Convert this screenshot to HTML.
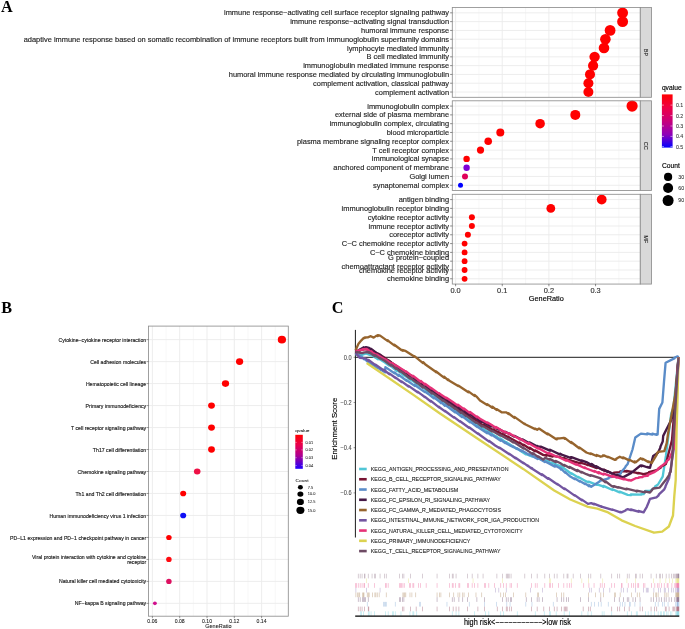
<!DOCTYPE html><html><head><meta charset="utf-8"><style>
html,body{margin:0;padding:0;background:#fff;}
svg{display:block;}
text{font-family:"Liberation Sans", sans-serif;filter:grayscale(1);}
</style></head><body>
<svg width="685" height="629" viewBox="0 0 685 629">
<rect width="685" height="629" fill="#fff"/><g>
<text x="0.9" y="12.2" style='font-family:"Liberation Serif", serif' font-weight="bold" font-size="16.2" fill="#000">A</text>
<text x="1.2" y="313.2" style='font-family:"Liberation Serif", serif' font-weight="bold" font-size="16.2" fill="#000">B</text>
<text x="331.8" y="313.1" style='font-family:"Liberation Serif", serif' font-weight="bold" font-size="16.2" fill="#000">C</text>
<rect x="452.3" y="7.55" width="187.99999999999994" height="89.76" fill="#fff"/>
<line x1="478.93" y1="7.55" x2="478.93" y2="97.31" stroke="#F2F2F2" stroke-width="0.6"/>
<line x1="525.58" y1="7.55" x2="525.58" y2="97.31" stroke="#F2F2F2" stroke-width="0.6"/>
<line x1="572.23" y1="7.55" x2="572.23" y2="97.31" stroke="#F2F2F2" stroke-width="0.6"/>
<line x1="618.88" y1="7.55" x2="618.88" y2="97.31" stroke="#F2F2F2" stroke-width="0.6"/>
<line x1="455.60" y1="7.55" x2="455.60" y2="97.31" stroke="#EBEBEB" stroke-width="0.9"/>
<line x1="502.25" y1="7.55" x2="502.25" y2="97.31" stroke="#EBEBEB" stroke-width="0.9"/>
<line x1="548.90" y1="7.55" x2="548.90" y2="97.31" stroke="#EBEBEB" stroke-width="0.9"/>
<line x1="595.55" y1="7.55" x2="595.55" y2="97.31" stroke="#EBEBEB" stroke-width="0.9"/>
<line x1="452.3" y1="12.83" x2="640.3" y2="12.83" stroke="#EBEBEB" stroke-width="0.9"/>
<line x1="452.3" y1="21.63" x2="640.3" y2="21.63" stroke="#EBEBEB" stroke-width="0.9"/>
<line x1="452.3" y1="30.43" x2="640.3" y2="30.43" stroke="#EBEBEB" stroke-width="0.9"/>
<line x1="452.3" y1="39.23" x2="640.3" y2="39.23" stroke="#EBEBEB" stroke-width="0.9"/>
<line x1="452.3" y1="48.03" x2="640.3" y2="48.03" stroke="#EBEBEB" stroke-width="0.9"/>
<line x1="452.3" y1="56.83" x2="640.3" y2="56.83" stroke="#EBEBEB" stroke-width="0.9"/>
<line x1="452.3" y1="65.63" x2="640.3" y2="65.63" stroke="#EBEBEB" stroke-width="0.9"/>
<line x1="452.3" y1="74.43" x2="640.3" y2="74.43" stroke="#EBEBEB" stroke-width="0.9"/>
<line x1="452.3" y1="83.23" x2="640.3" y2="83.23" stroke="#EBEBEB" stroke-width="0.9"/>
<line x1="452.3" y1="92.03" x2="640.3" y2="92.03" stroke="#EBEBEB" stroke-width="0.9"/>
<circle cx="622.6" cy="12.83" r="5.45" fill="#FF0000"/>
<circle cx="622.6" cy="21.63" r="5.45" fill="#FF0000"/>
<circle cx="610.1" cy="30.43" r="5.4" fill="#FF0000"/>
<circle cx="605.4" cy="39.23" r="5.3" fill="#FF0000"/>
<circle cx="604.0" cy="48.03" r="5.3" fill="#FF0000"/>
<circle cx="594.6" cy="56.83" r="5.2" fill="#FF0000"/>
<circle cx="593.1" cy="65.63" r="5.1" fill="#FF0000"/>
<circle cx="590.0" cy="74.43" r="5.05" fill="#FF0000"/>
<circle cx="588.4" cy="83.23" r="5.0" fill="#FF0000"/>
<circle cx="588.4" cy="92.03" r="5.0" fill="#FF0000"/>
<rect x="452.3" y="7.55" width="187.99999999999994" height="89.76" fill="none" stroke="#8F8F8F" stroke-width="0.85"/>
<rect x="640.3" y="7.55" width="11.2" height="89.76" fill="#D9D9D9" stroke="#8F8F8F" stroke-width="0.85"/>
<text transform="translate(644.4,52.43) rotate(90)" text-anchor="middle" font-size="5.6" fill="#1A1A1A" stroke="#1A1A1A" stroke-width="0.1">BP</text>
<line x1="450.1" y1="12.83" x2="452.3" y2="12.83" stroke="#333" stroke-width="0.55"/>
<text x="449.1" y="15.43" text-anchor="end" font-size="7.45" fill="#262626" stroke="#262626" stroke-width="0.15">immune response−activating cell surface receptor signaling pathway</text>
<line x1="450.1" y1="21.63" x2="452.3" y2="21.63" stroke="#333" stroke-width="0.55"/>
<text x="449.1" y="24.23" text-anchor="end" font-size="7.45" fill="#262626" stroke="#262626" stroke-width="0.15">immune response−activating signal transduction</text>
<line x1="450.1" y1="30.43" x2="452.3" y2="30.43" stroke="#333" stroke-width="0.55"/>
<text x="449.1" y="33.03" text-anchor="end" font-size="7.45" fill="#262626" stroke="#262626" stroke-width="0.15">humoral immune response</text>
<line x1="450.1" y1="39.23" x2="452.3" y2="39.23" stroke="#333" stroke-width="0.55"/>
<text x="449.1" y="41.83" text-anchor="end" font-size="7.45" fill="#262626" stroke="#262626" stroke-width="0.15">adaptive immune response based on somatic recombination of immune receptors built from immunoglobulin superfamily domains</text>
<line x1="450.1" y1="48.03" x2="452.3" y2="48.03" stroke="#333" stroke-width="0.55"/>
<text x="449.1" y="50.63" text-anchor="end" font-size="7.45" fill="#262626" stroke="#262626" stroke-width="0.15">lymphocyte mediated immunity</text>
<line x1="450.1" y1="56.83" x2="452.3" y2="56.83" stroke="#333" stroke-width="0.55"/>
<text x="449.1" y="59.43" text-anchor="end" font-size="7.45" fill="#262626" stroke="#262626" stroke-width="0.15">B cell mediated immunity</text>
<line x1="450.1" y1="65.63" x2="452.3" y2="65.63" stroke="#333" stroke-width="0.55"/>
<text x="449.1" y="68.23" text-anchor="end" font-size="7.45" fill="#262626" stroke="#262626" stroke-width="0.15">immunoglobulin mediated immune response</text>
<line x1="450.1" y1="74.43" x2="452.3" y2="74.43" stroke="#333" stroke-width="0.55"/>
<text x="449.1" y="77.03" text-anchor="end" font-size="7.45" fill="#262626" stroke="#262626" stroke-width="0.15">humoral immune response mediated by circulating immunoglobulin</text>
<line x1="450.1" y1="83.23" x2="452.3" y2="83.23" stroke="#333" stroke-width="0.55"/>
<text x="449.1" y="85.83" text-anchor="end" font-size="7.45" fill="#262626" stroke="#262626" stroke-width="0.15">complement activation, classical pathway</text>
<line x1="450.1" y1="92.03" x2="452.3" y2="92.03" stroke="#333" stroke-width="0.55"/>
<text x="449.1" y="94.63" text-anchor="end" font-size="7.45" fill="#262626" stroke="#262626" stroke-width="0.15">complement activation</text>
<rect x="452.3" y="100.8" width="187.99999999999994" height="89.76" fill="#fff"/>
<line x1="478.93" y1="100.8" x2="478.93" y2="190.56" stroke="#F2F2F2" stroke-width="0.6"/>
<line x1="525.58" y1="100.8" x2="525.58" y2="190.56" stroke="#F2F2F2" stroke-width="0.6"/>
<line x1="572.23" y1="100.8" x2="572.23" y2="190.56" stroke="#F2F2F2" stroke-width="0.6"/>
<line x1="618.88" y1="100.8" x2="618.88" y2="190.56" stroke="#F2F2F2" stroke-width="0.6"/>
<line x1="455.60" y1="100.8" x2="455.60" y2="190.56" stroke="#EBEBEB" stroke-width="0.9"/>
<line x1="502.25" y1="100.8" x2="502.25" y2="190.56" stroke="#EBEBEB" stroke-width="0.9"/>
<line x1="548.90" y1="100.8" x2="548.90" y2="190.56" stroke="#EBEBEB" stroke-width="0.9"/>
<line x1="595.55" y1="100.8" x2="595.55" y2="190.56" stroke="#EBEBEB" stroke-width="0.9"/>
<line x1="452.3" y1="106.08" x2="640.3" y2="106.08" stroke="#EBEBEB" stroke-width="0.9"/>
<line x1="452.3" y1="114.88" x2="640.3" y2="114.88" stroke="#EBEBEB" stroke-width="0.9"/>
<line x1="452.3" y1="123.68" x2="640.3" y2="123.68" stroke="#EBEBEB" stroke-width="0.9"/>
<line x1="452.3" y1="132.48" x2="640.3" y2="132.48" stroke="#EBEBEB" stroke-width="0.9"/>
<line x1="452.3" y1="141.28" x2="640.3" y2="141.28" stroke="#EBEBEB" stroke-width="0.9"/>
<line x1="452.3" y1="150.08" x2="640.3" y2="150.08" stroke="#EBEBEB" stroke-width="0.9"/>
<line x1="452.3" y1="158.88" x2="640.3" y2="158.88" stroke="#EBEBEB" stroke-width="0.9"/>
<line x1="452.3" y1="167.68" x2="640.3" y2="167.68" stroke="#EBEBEB" stroke-width="0.9"/>
<line x1="452.3" y1="176.48" x2="640.3" y2="176.48" stroke="#EBEBEB" stroke-width="0.9"/>
<line x1="452.3" y1="185.28" x2="640.3" y2="185.28" stroke="#EBEBEB" stroke-width="0.9"/>
<circle cx="632.1" cy="106.08" r="5.6" fill="#FF0000"/>
<circle cx="575.3" cy="114.88" r="5.0" fill="#FF0000"/>
<circle cx="540.1" cy="123.68" r="4.8" fill="#FF0000"/>
<circle cx="500.3" cy="132.48" r="4.0" fill="#FF0000"/>
<circle cx="488.2" cy="141.28" r="3.8" fill="#FF0000"/>
<circle cx="480.5" cy="150.08" r="3.6" fill="#FF0000"/>
<circle cx="466.6" cy="158.88" r="3.2" fill="#FF0000"/>
<circle cx="466.6" cy="167.68" r="3.2" fill="#7F00D6"/>
<circle cx="465.0" cy="176.48" r="3.0" fill="#E0005A"/>
<circle cx="460.5" cy="185.28" r="2.5" fill="#0000FF"/>
<rect x="452.3" y="100.8" width="187.99999999999994" height="89.76" fill="none" stroke="#8F8F8F" stroke-width="0.85"/>
<rect x="640.3" y="100.8" width="11.2" height="89.76" fill="#D9D9D9" stroke="#8F8F8F" stroke-width="0.85"/>
<text transform="translate(644.4,145.68) rotate(90)" text-anchor="middle" font-size="5.6" fill="#1A1A1A" stroke="#1A1A1A" stroke-width="0.1">CC</text>
<line x1="450.1" y1="106.08" x2="452.3" y2="106.08" stroke="#333" stroke-width="0.55"/>
<text x="449.1" y="108.68" text-anchor="end" font-size="7.45" fill="#262626" stroke="#262626" stroke-width="0.15">immunoglobulin complex</text>
<line x1="450.1" y1="114.88" x2="452.3" y2="114.88" stroke="#333" stroke-width="0.55"/>
<text x="449.1" y="117.48" text-anchor="end" font-size="7.45" fill="#262626" stroke="#262626" stroke-width="0.15">external side of plasma membrane</text>
<line x1="450.1" y1="123.68" x2="452.3" y2="123.68" stroke="#333" stroke-width="0.55"/>
<text x="449.1" y="126.28" text-anchor="end" font-size="7.45" fill="#262626" stroke="#262626" stroke-width="0.15">immunoglobulin complex, circulating</text>
<line x1="450.1" y1="132.48" x2="452.3" y2="132.48" stroke="#333" stroke-width="0.55"/>
<text x="449.1" y="135.08" text-anchor="end" font-size="7.45" fill="#262626" stroke="#262626" stroke-width="0.15">blood microparticle</text>
<line x1="450.1" y1="141.28" x2="452.3" y2="141.28" stroke="#333" stroke-width="0.55"/>
<text x="449.1" y="143.88" text-anchor="end" font-size="7.45" fill="#262626" stroke="#262626" stroke-width="0.15">plasma membrane signaling receptor complex</text>
<line x1="450.1" y1="150.08" x2="452.3" y2="150.08" stroke="#333" stroke-width="0.55"/>
<text x="449.1" y="152.68" text-anchor="end" font-size="7.45" fill="#262626" stroke="#262626" stroke-width="0.15">T cell receptor complex</text>
<line x1="450.1" y1="158.88" x2="452.3" y2="158.88" stroke="#333" stroke-width="0.55"/>
<text x="449.1" y="161.48" text-anchor="end" font-size="7.45" fill="#262626" stroke="#262626" stroke-width="0.15">immunological synapse</text>
<line x1="450.1" y1="167.68" x2="452.3" y2="167.68" stroke="#333" stroke-width="0.55"/>
<text x="449.1" y="170.28" text-anchor="end" font-size="7.45" fill="#262626" stroke="#262626" stroke-width="0.15">anchored component of membrane</text>
<line x1="450.1" y1="176.48" x2="452.3" y2="176.48" stroke="#333" stroke-width="0.55"/>
<text x="449.1" y="179.08" text-anchor="end" font-size="7.45" fill="#262626" stroke="#262626" stroke-width="0.15">Golgi lumen</text>
<line x1="450.1" y1="185.28" x2="452.3" y2="185.28" stroke="#333" stroke-width="0.55"/>
<text x="449.1" y="187.88" text-anchor="end" font-size="7.45" fill="#262626" stroke="#262626" stroke-width="0.15">synaptonemal complex</text>
<rect x="452.3" y="194.3" width="187.99999999999994" height="89.75999999999999" fill="#fff"/>
<line x1="478.93" y1="194.3" x2="478.93" y2="284.06" stroke="#F2F2F2" stroke-width="0.6"/>
<line x1="525.58" y1="194.3" x2="525.58" y2="284.06" stroke="#F2F2F2" stroke-width="0.6"/>
<line x1="572.23" y1="194.3" x2="572.23" y2="284.06" stroke="#F2F2F2" stroke-width="0.6"/>
<line x1="618.88" y1="194.3" x2="618.88" y2="284.06" stroke="#F2F2F2" stroke-width="0.6"/>
<line x1="455.60" y1="194.3" x2="455.60" y2="284.06" stroke="#EBEBEB" stroke-width="0.9"/>
<line x1="502.25" y1="194.3" x2="502.25" y2="284.06" stroke="#EBEBEB" stroke-width="0.9"/>
<line x1="548.90" y1="194.3" x2="548.90" y2="284.06" stroke="#EBEBEB" stroke-width="0.9"/>
<line x1="595.55" y1="194.3" x2="595.55" y2="284.06" stroke="#EBEBEB" stroke-width="0.9"/>
<line x1="452.3" y1="199.58" x2="640.3" y2="199.58" stroke="#EBEBEB" stroke-width="0.9"/>
<line x1="452.3" y1="208.38" x2="640.3" y2="208.38" stroke="#EBEBEB" stroke-width="0.9"/>
<line x1="452.3" y1="217.18" x2="640.3" y2="217.18" stroke="#EBEBEB" stroke-width="0.9"/>
<line x1="452.3" y1="225.98" x2="640.3" y2="225.98" stroke="#EBEBEB" stroke-width="0.9"/>
<line x1="452.3" y1="234.78" x2="640.3" y2="234.78" stroke="#EBEBEB" stroke-width="0.9"/>
<line x1="452.3" y1="243.58" x2="640.3" y2="243.58" stroke="#EBEBEB" stroke-width="0.9"/>
<line x1="452.3" y1="252.38" x2="640.3" y2="252.38" stroke="#EBEBEB" stroke-width="0.9"/>
<line x1="452.3" y1="261.18" x2="640.3" y2="261.18" stroke="#EBEBEB" stroke-width="0.9"/>
<line x1="452.3" y1="269.98" x2="640.3" y2="269.98" stroke="#EBEBEB" stroke-width="0.9"/>
<line x1="452.3" y1="278.78" x2="640.3" y2="278.78" stroke="#EBEBEB" stroke-width="0.9"/>
<circle cx="601.7" cy="199.58" r="4.9" fill="#FF0000"/>
<circle cx="550.8" cy="208.38" r="4.4" fill="#FF0000"/>
<circle cx="471.9" cy="217.18" r="3.0" fill="#FF0000"/>
<circle cx="471.9" cy="225.98" r="3.0" fill="#FF0000"/>
<circle cx="467.9" cy="234.78" r="3.0" fill="#FF0000"/>
<circle cx="464.6" cy="243.58" r="2.9" fill="#FF0000"/>
<circle cx="464.6" cy="252.38" r="2.9" fill="#FF0000"/>
<circle cx="464.6" cy="261.18" r="2.9" fill="#FF0000"/>
<circle cx="464.6" cy="269.98" r="2.9" fill="#FF0000"/>
<circle cx="464.6" cy="278.78" r="2.9" fill="#FF0000"/>
<rect x="452.3" y="194.3" width="187.99999999999994" height="89.76" fill="none" stroke="#8F8F8F" stroke-width="0.85"/>
<rect x="640.3" y="194.3" width="11.2" height="89.76" fill="#D9D9D9" stroke="#8F8F8F" stroke-width="0.85"/>
<text transform="translate(644.4,239.18) rotate(90)" text-anchor="middle" font-size="5.6" fill="#1A1A1A" stroke="#1A1A1A" stroke-width="0.1">MF</text>
<line x1="450.1" y1="199.58" x2="452.3" y2="199.58" stroke="#333" stroke-width="0.55"/>
<text x="449.1" y="202.18" text-anchor="end" font-size="7.45" fill="#262626" stroke="#262626" stroke-width="0.15">antigen binding</text>
<line x1="450.1" y1="208.38" x2="452.3" y2="208.38" stroke="#333" stroke-width="0.55"/>
<text x="449.1" y="210.98" text-anchor="end" font-size="7.45" fill="#262626" stroke="#262626" stroke-width="0.15">immunoglobulin receptor binding</text>
<line x1="450.1" y1="217.18" x2="452.3" y2="217.18" stroke="#333" stroke-width="0.55"/>
<text x="449.1" y="219.78" text-anchor="end" font-size="7.45" fill="#262626" stroke="#262626" stroke-width="0.15">cytokine receptor activity</text>
<line x1="450.1" y1="225.98" x2="452.3" y2="225.98" stroke="#333" stroke-width="0.55"/>
<text x="449.1" y="228.58" text-anchor="end" font-size="7.45" fill="#262626" stroke="#262626" stroke-width="0.15">immune receptor activity</text>
<line x1="450.1" y1="234.78" x2="452.3" y2="234.78" stroke="#333" stroke-width="0.55"/>
<text x="449.1" y="237.38" text-anchor="end" font-size="7.45" fill="#262626" stroke="#262626" stroke-width="0.15">coreceptor activity</text>
<line x1="450.1" y1="243.58" x2="452.3" y2="243.58" stroke="#333" stroke-width="0.55"/>
<text x="449.1" y="246.18" text-anchor="end" font-size="7.45" fill="#262626" stroke="#262626" stroke-width="0.15">C−C chemokine receptor activity</text>
<line x1="450.1" y1="252.38" x2="452.3" y2="252.38" stroke="#333" stroke-width="0.55"/>
<text x="449.1" y="254.98" text-anchor="end" font-size="7.45" fill="#262626" stroke="#262626" stroke-width="0.15">C−C chemokine binding</text>
<line x1="450.1" y1="261.18" x2="452.3" y2="261.18" stroke="#333" stroke-width="0.55"/>
<text x="449.1" y="260.38" text-anchor="end" font-size="7.45" fill="#262626" stroke="#262626" stroke-width="0.15">G protein−coupled</text>
<text x="449.1" y="268.58" text-anchor="end" font-size="7.45" fill="#262626" stroke="#262626" stroke-width="0.15">chemoattractant receptor activity</text>
<line x1="450.1" y1="269.98" x2="452.3" y2="269.98" stroke="#333" stroke-width="0.55"/>
<text x="449.1" y="272.58" text-anchor="end" font-size="7.45" fill="#262626" stroke="#262626" stroke-width="0.15">chemokine receptor activity</text>
<line x1="450.1" y1="278.78" x2="452.3" y2="278.78" stroke="#333" stroke-width="0.55"/>
<text x="449.1" y="281.38" text-anchor="end" font-size="7.45" fill="#262626" stroke="#262626" stroke-width="0.15">chemokine binding</text>
<line x1="455.60" y1="284.06" x2="455.60" y2="286.26" stroke="#333" stroke-width="0.55"/>
<text x="455.60" y="292.6" text-anchor="middle" font-size="7.4" fill="#333" stroke="#333" stroke-width="0.15">0.0</text>
<line x1="502.25" y1="284.06" x2="502.25" y2="286.26" stroke="#333" stroke-width="0.55"/>
<text x="502.25" y="292.6" text-anchor="middle" font-size="7.4" fill="#333" stroke="#333" stroke-width="0.15">0.1</text>
<line x1="548.90" y1="284.06" x2="548.90" y2="286.26" stroke="#333" stroke-width="0.55"/>
<text x="548.90" y="292.6" text-anchor="middle" font-size="7.4" fill="#333" stroke="#333" stroke-width="0.15">0.2</text>
<line x1="595.55" y1="284.06" x2="595.55" y2="286.26" stroke="#333" stroke-width="0.55"/>
<text x="595.55" y="292.6" text-anchor="middle" font-size="7.4" fill="#333" stroke="#333" stroke-width="0.15">0.3</text>
<text x="546.3" y="300.9" text-anchor="middle" font-size="7.3" fill="#000" stroke="#000" stroke-width="0.15">GeneRatio</text>
<text x="661.9" y="90.4" font-size="6.7" fill="#000" stroke="#000" stroke-width="0.15">qvalue</text>
<defs><linearGradient id="gq" x1="0" y1="0" x2="0" y2="1"><stop offset="0" stop-color="#FF0000"/><stop offset="0.25" stop-color="#EE0045"/><stop offset="0.5" stop-color="#C8007A"/><stop offset="0.75" stop-color="#9000B8"/><stop offset="1" stop-color="#0000FF"/></linearGradient></defs>
<rect x="661.9" y="94.4" width="10.7" height="53.2" fill="url(#gq)"/>
<line x1="661.9" y1="105.1" x2="664" y2="105.1" stroke="#fff" stroke-width="0.5"/>
<line x1="670.5" y1="105.1" x2="672.6" y2="105.1" stroke="#fff" stroke-width="0.5"/>
<text x="675.9" y="107.0" font-size="5.3" fill="#333" stroke="#333" stroke-width="0.07">0.1</text>
<line x1="661.9" y1="115.6" x2="664" y2="115.6" stroke="#fff" stroke-width="0.5"/>
<line x1="670.5" y1="115.6" x2="672.6" y2="115.6" stroke="#fff" stroke-width="0.5"/>
<text x="675.9" y="117.5" font-size="5.3" fill="#333" stroke="#333" stroke-width="0.07">0.2</text>
<line x1="661.9" y1="126.0" x2="664" y2="126.0" stroke="#fff" stroke-width="0.5"/>
<line x1="670.5" y1="126.0" x2="672.6" y2="126.0" stroke="#fff" stroke-width="0.5"/>
<text x="675.9" y="127.9" font-size="5.3" fill="#333" stroke="#333" stroke-width="0.07">0.3</text>
<line x1="661.9" y1="136.4" x2="664" y2="136.4" stroke="#fff" stroke-width="0.5"/>
<line x1="670.5" y1="136.4" x2="672.6" y2="136.4" stroke="#fff" stroke-width="0.5"/>
<text x="675.9" y="138.3" font-size="5.3" fill="#333" stroke="#333" stroke-width="0.07">0.4</text>
<line x1="661.9" y1="146.6" x2="664" y2="146.6" stroke="#fff" stroke-width="0.5"/>
<line x1="670.5" y1="146.6" x2="672.6" y2="146.6" stroke="#fff" stroke-width="0.5"/>
<text x="675.9" y="148.5" font-size="5.3" fill="#333" stroke="#333" stroke-width="0.07">0.5</text>
<text x="662" y="167.7" font-size="6.7" fill="#000" stroke="#000" stroke-width="0.15">Count</text>
<circle cx="668.1" cy="176.9" r="4.1" fill="#000"/>
<text x="678.2" y="178.8" font-size="5.3" fill="#333" stroke="#333" stroke-width="0.07">30</text>
<circle cx="668.1" cy="188.0" r="5.0" fill="#000"/>
<text x="678.2" y="189.9" font-size="5.3" fill="#333" stroke="#333" stroke-width="0.07">60</text>
<circle cx="668.1" cy="200.5" r="5.5" fill="#000"/>
<text x="678.2" y="202.4" font-size="5.3" fill="#333" stroke="#333" stroke-width="0.07">90</text>
<rect x="148.5" y="326.1" width="139.8" height="290.1" fill="#fff"/>
<line x1="152.40" y1="326.1" x2="152.40" y2="616.2" stroke="#EBEBEB" stroke-width="0.9"/>
<line x1="166.05" y1="326.1" x2="166.05" y2="616.2" stroke="#F2F2F2" stroke-width="0.6"/>
<line x1="179.70" y1="326.1" x2="179.70" y2="616.2" stroke="#EBEBEB" stroke-width="0.9"/>
<line x1="193.35" y1="326.1" x2="193.35" y2="616.2" stroke="#F2F2F2" stroke-width="0.6"/>
<line x1="207.00" y1="326.1" x2="207.00" y2="616.2" stroke="#EBEBEB" stroke-width="0.9"/>
<line x1="220.65" y1="326.1" x2="220.65" y2="616.2" stroke="#F2F2F2" stroke-width="0.6"/>
<line x1="234.30" y1="326.1" x2="234.30" y2="616.2" stroke="#EBEBEB" stroke-width="0.9"/>
<line x1="247.95" y1="326.1" x2="247.95" y2="616.2" stroke="#F2F2F2" stroke-width="0.6"/>
<line x1="261.60" y1="326.1" x2="261.60" y2="616.2" stroke="#EBEBEB" stroke-width="0.9"/>
<line x1="275.25" y1="326.1" x2="275.25" y2="616.2" stroke="#F2F2F2" stroke-width="0.6"/>
<line x1="148.5" y1="339.64" x2="288.3" y2="339.64" stroke="#EBEBEB" stroke-width="0.9"/>
<line x1="148.5" y1="361.61" x2="288.3" y2="361.61" stroke="#EBEBEB" stroke-width="0.9"/>
<line x1="148.5" y1="383.59" x2="288.3" y2="383.59" stroke="#EBEBEB" stroke-width="0.9"/>
<line x1="148.5" y1="405.57" x2="288.3" y2="405.57" stroke="#EBEBEB" stroke-width="0.9"/>
<line x1="148.5" y1="427.55" x2="288.3" y2="427.55" stroke="#EBEBEB" stroke-width="0.9"/>
<line x1="148.5" y1="449.52" x2="288.3" y2="449.52" stroke="#EBEBEB" stroke-width="0.9"/>
<line x1="148.5" y1="471.50" x2="288.3" y2="471.50" stroke="#EBEBEB" stroke-width="0.9"/>
<line x1="148.5" y1="493.48" x2="288.3" y2="493.48" stroke="#EBEBEB" stroke-width="0.9"/>
<line x1="148.5" y1="515.45" x2="288.3" y2="515.45" stroke="#EBEBEB" stroke-width="0.9"/>
<line x1="148.5" y1="537.43" x2="288.3" y2="537.43" stroke="#EBEBEB" stroke-width="0.9"/>
<line x1="148.5" y1="559.41" x2="288.3" y2="559.41" stroke="#EBEBEB" stroke-width="0.9"/>
<line x1="148.5" y1="581.39" x2="288.3" y2="581.39" stroke="#EBEBEB" stroke-width="0.9"/>
<line x1="148.5" y1="603.36" x2="288.3" y2="603.36" stroke="#EBEBEB" stroke-width="0.9"/>
<ellipse cx="281.9" cy="339.64" rx="4.13" ry="3.8" fill="#FF0000"/>
<ellipse cx="239.6" cy="361.61" rx="3.65" ry="3.35" fill="#FF0000"/>
<ellipse cx="225.5" cy="383.59" rx="3.6" ry="3.3" fill="#FF0000"/>
<ellipse cx="211.5" cy="405.57" rx="3.4" ry="3.15" fill="#FF0000"/>
<ellipse cx="211.5" cy="427.55" rx="3.4" ry="3.15" fill="#FF0000"/>
<ellipse cx="211.5" cy="449.52" rx="3.4" ry="3.15" fill="#FF0000"/>
<ellipse cx="197.2" cy="471.50" rx="3.3" ry="3.05" fill="#EE1045"/>
<ellipse cx="183.2" cy="493.48" rx="3.0" ry="2.8" fill="#FF0000"/>
<ellipse cx="183.2" cy="515.45" rx="3.0" ry="2.8" fill="#1010F5"/>
<ellipse cx="168.9" cy="537.43" rx="2.75" ry="2.55" fill="#FF0000"/>
<ellipse cx="168.9" cy="559.41" rx="2.75" ry="2.55" fill="#FF0A10"/>
<ellipse cx="168.9" cy="581.39" rx="2.75" ry="2.55" fill="#DD1060"/>
<ellipse cx="154.9" cy="603.36" rx="1.95" ry="1.8" fill="#D0108C"/>
<rect x="148.5" y="326.1" width="139.8" height="290.1" fill="none" stroke="#8F8F8F" stroke-width="0.85"/>
<line x1="146.5" y1="339.64" x2="148.5" y2="339.64" stroke="#333" stroke-width="0.5"/>
<text transform="translate(146.20,341.74) scale(1.1,1)" text-anchor="end" font-size="4.7" fill="#1A1A1A" stroke="#1A1A1A" stroke-width="0.13">Cytokine−cytokine receptor interaction</text>
<line x1="146.5" y1="361.61" x2="148.5" y2="361.61" stroke="#333" stroke-width="0.5"/>
<text transform="translate(146.20,363.71) scale(1.1,1)" text-anchor="end" font-size="4.7" fill="#1A1A1A" stroke="#1A1A1A" stroke-width="0.13">Cell adhesion molecules</text>
<line x1="146.5" y1="383.59" x2="148.5" y2="383.59" stroke="#333" stroke-width="0.5"/>
<text transform="translate(146.20,385.69) scale(1.1,1)" text-anchor="end" font-size="4.7" fill="#1A1A1A" stroke="#1A1A1A" stroke-width="0.13">Hematopoietic cell lineage</text>
<line x1="146.5" y1="405.57" x2="148.5" y2="405.57" stroke="#333" stroke-width="0.5"/>
<text transform="translate(146.20,407.67) scale(1.1,1)" text-anchor="end" font-size="4.7" fill="#1A1A1A" stroke="#1A1A1A" stroke-width="0.13">Primary immunodeficiency</text>
<line x1="146.5" y1="427.55" x2="148.5" y2="427.55" stroke="#333" stroke-width="0.5"/>
<text transform="translate(146.20,429.65) scale(1.1,1)" text-anchor="end" font-size="4.7" fill="#1A1A1A" stroke="#1A1A1A" stroke-width="0.13">T cell receptor signaling pathway</text>
<line x1="146.5" y1="449.52" x2="148.5" y2="449.52" stroke="#333" stroke-width="0.5"/>
<text transform="translate(146.20,451.62) scale(1.1,1)" text-anchor="end" font-size="4.7" fill="#1A1A1A" stroke="#1A1A1A" stroke-width="0.13">Th17 cell differentiation</text>
<line x1="146.5" y1="471.50" x2="148.5" y2="471.50" stroke="#333" stroke-width="0.5"/>
<text transform="translate(146.20,473.60) scale(1.1,1)" text-anchor="end" font-size="4.7" fill="#1A1A1A" stroke="#1A1A1A" stroke-width="0.13">Chemokine signaling pathway</text>
<line x1="146.5" y1="493.48" x2="148.5" y2="493.48" stroke="#333" stroke-width="0.5"/>
<text transform="translate(146.20,495.58) scale(1.1,1)" text-anchor="end" font-size="4.7" fill="#1A1A1A" stroke="#1A1A1A" stroke-width="0.13">Th1 and Th2 cell differentiation</text>
<line x1="146.5" y1="515.45" x2="148.5" y2="515.45" stroke="#333" stroke-width="0.5"/>
<text transform="translate(146.20,517.55) scale(1.1,1)" text-anchor="end" font-size="4.7" fill="#1A1A1A" stroke="#1A1A1A" stroke-width="0.13">Human immunodeficiency virus 1 infection</text>
<line x1="146.5" y1="537.43" x2="148.5" y2="537.43" stroke="#333" stroke-width="0.5"/>
<text transform="translate(146.20,539.53) scale(1.1,1)" text-anchor="end" font-size="4.7" fill="#1A1A1A" stroke="#1A1A1A" stroke-width="0.13">PD−L1 expression and PD−1 checkpoint pathway in cancer</text>
<line x1="146.5" y1="559.41" x2="148.5" y2="559.41" stroke="#333" stroke-width="0.5"/>
<text transform="translate(146.20,558.91) scale(1.1,1)" text-anchor="end" font-size="4.7" fill="#1A1A1A" stroke="#1A1A1A" stroke-width="0.13">Viral protein interaction with cytokine and cytokine</text>
<text transform="translate(146.20,564.31) scale(1.1,1)" text-anchor="end" font-size="4.7" fill="#1A1A1A" stroke="#1A1A1A" stroke-width="0.13">receptor</text>
<line x1="146.5" y1="581.39" x2="148.5" y2="581.39" stroke="#333" stroke-width="0.5"/>
<text transform="translate(146.20,583.49) scale(1.1,1)" text-anchor="end" font-size="4.7" fill="#1A1A1A" stroke="#1A1A1A" stroke-width="0.13">Natural killer cell mediated cytotoxicity</text>
<line x1="146.5" y1="603.36" x2="148.5" y2="603.36" stroke="#333" stroke-width="0.5"/>
<text transform="translate(146.20,605.46) scale(1.1,1)" text-anchor="end" font-size="4.7" fill="#1A1A1A" stroke="#1A1A1A" stroke-width="0.13">NF−kappa B signaling pathway</text>
<line x1="152.40" y1="616.2" x2="152.40" y2="618.2" stroke="#333" stroke-width="0.5"/>
<text transform="translate(152.40,622.80) scale(1.1,1)" text-anchor="middle" font-size="4.7" fill="#1A1A1A" stroke="#1A1A1A" stroke-width="0.07">0.06</text>
<line x1="179.70" y1="616.2" x2="179.70" y2="618.2" stroke="#333" stroke-width="0.5"/>
<text transform="translate(179.70,622.80) scale(1.1,1)" text-anchor="middle" font-size="4.7" fill="#1A1A1A" stroke="#1A1A1A" stroke-width="0.07">0.08</text>
<line x1="207.00" y1="616.2" x2="207.00" y2="618.2" stroke="#333" stroke-width="0.5"/>
<text transform="translate(207.00,622.80) scale(1.1,1)" text-anchor="middle" font-size="4.7" fill="#1A1A1A" stroke="#1A1A1A" stroke-width="0.07">0.10</text>
<line x1="234.30" y1="616.2" x2="234.30" y2="618.2" stroke="#333" stroke-width="0.5"/>
<text transform="translate(234.30,622.80) scale(1.1,1)" text-anchor="middle" font-size="4.7" fill="#1A1A1A" stroke="#1A1A1A" stroke-width="0.07">0.12</text>
<line x1="261.60" y1="616.2" x2="261.60" y2="618.2" stroke="#333" stroke-width="0.5"/>
<text transform="translate(261.60,622.80) scale(1.1,1)" text-anchor="middle" font-size="4.7" fill="#1A1A1A" stroke="#1A1A1A" stroke-width="0.07">0.14</text>
<text transform="translate(218.40,628.30) scale(1.1,1)" text-anchor="middle" font-size="5.0" fill="#1A1A1A" stroke="#1A1A1A" stroke-width="0.07">GeneRatio</text>
<text transform="translate(295.30,432.40) scale(1.1,1)" text-anchor="start" font-size="4.4" fill="#1A1A1A" stroke="#1A1A1A" stroke-width="0.07">qvalue</text>
<defs><linearGradient id="gq2" x1="0" y1="0" x2="0" y2="1"><stop offset="0" stop-color="#FF0000"/><stop offset="0.3" stop-color="#E8004E"/><stop offset="0.6" stop-color="#B0008E"/><stop offset="1" stop-color="#2000FF"/></linearGradient></defs>
<rect x="295.3" y="434.8" width="7.5" height="34" fill="url(#gq2)"/>
<line x1="295.3" y1="442.4" x2="296.8" y2="442.4" stroke="#fff" stroke-width="0.4"/>
<line x1="301.3" y1="442.4" x2="302.8" y2="442.4" stroke="#fff" stroke-width="0.4"/>
<text transform="translate(305.40,443.70) scale(1.1,1)" text-anchor="start" font-size="3.6" fill="#1A1A1A" stroke="#1A1A1A" stroke-width="0.03">0.01</text>
<line x1="295.3" y1="449.9" x2="296.8" y2="449.9" stroke="#fff" stroke-width="0.4"/>
<line x1="301.3" y1="449.9" x2="302.8" y2="449.9" stroke="#fff" stroke-width="0.4"/>
<text transform="translate(305.40,451.20) scale(1.1,1)" text-anchor="start" font-size="3.6" fill="#1A1A1A" stroke="#1A1A1A" stroke-width="0.03">0.02</text>
<line x1="295.3" y1="457.7" x2="296.8" y2="457.7" stroke="#fff" stroke-width="0.4"/>
<line x1="301.3" y1="457.7" x2="302.8" y2="457.7" stroke="#fff" stroke-width="0.4"/>
<text transform="translate(305.40,459.00) scale(1.1,1)" text-anchor="start" font-size="3.6" fill="#1A1A1A" stroke="#1A1A1A" stroke-width="0.03">0.03</text>
<line x1="295.3" y1="465.5" x2="296.8" y2="465.5" stroke="#fff" stroke-width="0.4"/>
<line x1="301.3" y1="465.5" x2="302.8" y2="465.5" stroke="#fff" stroke-width="0.4"/>
<text transform="translate(305.40,466.80) scale(1.1,1)" text-anchor="start" font-size="3.6" fill="#1A1A1A" stroke="#1A1A1A" stroke-width="0.03">0.04</text>
<text transform="translate(295.60,481.50) scale(1.1,1)" text-anchor="start" font-size="4.4" fill="#1A1A1A" stroke="#1A1A1A" stroke-width="0.07">Count</text>
<ellipse cx="300.4" cy="487.2" rx="2.5" ry="2.25" fill="#000"/>
<text transform="translate(307.70,488.50) scale(1.1,1)" text-anchor="start" font-size="3.6" fill="#1A1A1A" stroke="#1A1A1A" stroke-width="0.03">7.5</text>
<ellipse cx="300.4" cy="494.1" rx="3.0" ry="2.70" fill="#000"/>
<text transform="translate(307.70,495.40) scale(1.1,1)" text-anchor="start" font-size="3.6" fill="#1A1A1A" stroke="#1A1A1A" stroke-width="0.03">10.0</text>
<ellipse cx="300.4" cy="501.9" rx="3.5" ry="3.15" fill="#000"/>
<text transform="translate(307.70,503.20) scale(1.1,1)" text-anchor="start" font-size="3.6" fill="#1A1A1A" stroke="#1A1A1A" stroke-width="0.03">12.5</text>
<ellipse cx="300.4" cy="510.3" rx="4.0" ry="3.60" fill="#000"/>
<text transform="translate(307.70,511.60) scale(1.1,1)" text-anchor="start" font-size="3.6" fill="#1A1A1A" stroke="#1A1A1A" stroke-width="0.03">15.0</text>
<line x1="355.4" y1="329.9" x2="355.4" y2="537.5" stroke="#000" stroke-width="0.9"/>
<line x1="353.59999999999997" y1="357.30" x2="355.4" y2="357.30" stroke="#333" stroke-width="0.5"/>
<text transform="translate(351.6,359.60) scale(0.875,1)" text-anchor="end" font-size="6.4" fill="#4D4D4D" stroke="#4D4D4D" stroke-width="0.1">0.0</text>
<line x1="353.59999999999997" y1="402.50" x2="355.4" y2="402.50" stroke="#333" stroke-width="0.5"/>
<text transform="translate(351.6,404.80) scale(0.875,1)" text-anchor="end" font-size="6.4" fill="#4D4D4D" stroke="#4D4D4D" stroke-width="0.1">−0.2</text>
<line x1="353.59999999999997" y1="447.70" x2="355.4" y2="447.70" stroke="#333" stroke-width="0.5"/>
<text transform="translate(351.6,450.00) scale(0.875,1)" text-anchor="end" font-size="6.4" fill="#4D4D4D" stroke="#4D4D4D" stroke-width="0.1">−0.4</text>
<line x1="353.59999999999997" y1="492.90" x2="355.4" y2="492.90" stroke="#333" stroke-width="0.5"/>
<text transform="translate(351.6,495.20) scale(0.875,1)" text-anchor="end" font-size="6.4" fill="#4D4D4D" stroke="#4D4D4D" stroke-width="0.1">−0.6</text>
<text transform="translate(336.9,428.7) rotate(-90)" text-anchor="middle" font-size="7.8" fill="#000" stroke="#000" stroke-width="0.15">Enrichment Score</text>
<line x1="355.4" y1="357.30" x2="678.6" y2="357.30" stroke="#000" stroke-width="0.9"/>
<polyline points="355.5,354.0 359.8,355.2 359.9,354.2 362.0,355.0 366.0,353.5 371.0,355.4 371.1,355.0 372.0,355.5 378.0,359.2 378.1,358.3 385.0,362.5 389.0,365.6 389.1,364.8 397.0,371.1 397.1,370.0 404.0,375.6 404.1,375.0 411.0,380.3 411.1,379.7 420.0,386.4 420.1,385.7 428.0,391.9 428.1,390.9 435.0,396.6 435.1,395.7 440.0,399.5 443.0,402.0 443.1,401.1 448.0,405.3 448.1,404.7 455.0,410.0 455.1,409.6 465.0,416.9 465.1,416.4 470.0,420.5 470.1,419.7 478.0,426.2 478.1,425.1 480.0,427.0 488.1,432.1 488.2,431.4 496.2,436.8 496.3,436.3 500.3,439.5 500.4,438.4 506.4,442.8 506.4,442.2 516.5,448.8 516.6,448.2 525.7,454.2 525.7,453.6 526.7,454.5 531.9,456.5 531.9,455.9 541.1,459.5 541.2,459.1 546.3,461.5 546.4,460.4 549.4,462.0 551.5,463.0 551.6,462.6 560.0,466.0 561.0,467.2 561.1,466.2 570.3,473.0 571.3,473.8 571.4,473.3 578.3,477.5 578.4,476.9 586.4,481.4 588.5,482.3 588.6,481.7 597.0,484.8 597.0,484.3 602.3,486.1 603.3,487.0 603.4,485.9 612.5,490.0 612.5,489.2 619.6,492.4 619.6,491.7 627.7,494.9 630.9,495.2 630.9,494.3 641.5,494.6 641.5,493.8 643.6,494.1 645.2,490.9 650.0,490.9 655.0,487.4 655.0,486.4 658.0,484.5 662.7,476.6 665.9,455.9 671.2,413.7 673.5,407.3 678.5,357.4" fill="none" stroke="#50C6D6" stroke-width="2.35" stroke-linejoin="round"/>
<polyline points="355.5,352.0 359.8,350.7 359.8,349.9 363.0,349.0 368.0,349.5 368.1,348.5 370.0,349.0 378.0,354.0 378.1,353.6 385.0,358.0 389.0,361.1 389.1,360.6 395.0,365.4 395.1,364.8 403.0,371.1 403.1,370.4 409.0,375.2 409.1,374.8 417.0,381.0 417.1,380.4 425.0,386.6 425.1,386.1 429.0,389.6 429.1,388.8 436.0,394.5 436.1,393.9 440.0,397.0 442.0,398.7 442.1,397.9 447.0,401.9 447.1,401.4 451.0,404.7 451.1,403.9 455.0,407.4 455.1,406.4 464.0,413.3 464.1,412.4 468.0,415.8 468.1,415.2 473.0,419.3 473.1,418.2 480.0,423.4 484.0,425.8 484.1,424.9 493.1,430.1 493.1,429.3 498.1,432.4 498.2,431.8 502.2,434.4 502.2,433.7 508.2,437.3 508.2,436.5 509.2,437.4 519.5,443.2 519.5,442.5 523.6,445.5 523.7,444.6 526.7,446.7 529.8,448.8 529.8,447.7 534.9,451.2 535.0,450.4 543.1,454.9 546.3,455.7 546.3,454.9 552.6,456.5 552.7,455.9 560.0,457.2 564.1,459.0 564.2,458.0 569.3,460.5 569.3,459.8 570.3,460.5 580.4,463.4 580.4,462.6 586.4,464.5 587.4,465.1 587.5,464.6 596.9,468.1 596.9,467.1 600.0,468.5 604.3,470.8 604.3,469.7 611.8,473.4 613.9,473.3 614.0,472.7 620.3,472.1 620.3,471.5 624.5,471.0 626.5,471.6 626.6,471.0 635.7,472.6 638.0,473.3 638.0,472.8 643.6,474.2 648.9,473.0 649.0,472.1 656.4,470.2 660.6,467.8 660.7,467.0 665.9,463.9 672.0,440.0 678.5,357.4" fill="none" stroke="#781432" stroke-width="2.35" stroke-linejoin="round"/>
<polyline points="357.0,354.0 362.0,357.0 364.3,359.3 364.4,358.6 367.8,361.9 370.8,364.0 370.9,363.5 376.9,367.8 377.0,367.1 381.0,370.1 381.0,369.7 385.0,372.4 385.4,367.1 394.5,373.3 394.5,372.3 398.5,375.9 398.6,374.8 406.6,380.7 406.6,380.2 414.7,385.9 414.7,385.0 424.8,392.1 424.8,391.6 429.8,395.0 433.9,398.3 433.9,397.3 440.0,402.0 441.0,403.2 441.1,402.1 445.0,405.8 445.1,404.8 455.0,412.4 455.1,411.5 462.0,417.1 462.1,416.1 470.0,422.3 470.1,421.6 477.0,426.9 477.1,426.3 480.0,428.6 487.2,433.2 487.3,432.2 491.4,435.4 491.4,434.6 500.7,440.7 500.7,439.9 504.8,442.9 504.9,442.3 506.9,443.8 513.1,447.0 513.1,446.5 517.2,449.0 517.2,448.5 521.3,451.1 521.3,450.3 529.5,454.9 529.6,454.3 532.6,456.1 537.7,458.9 537.7,457.8 544.8,461.9 544.8,461.2 554.9,466.6 555.0,465.5 560.0,468.3 561.0,469.6 561.1,468.6 565.1,472.7 565.2,472.2 570.3,476.6 574.5,479.0 574.5,478.3 579.7,481.4 579.8,480.9 584.9,483.9 585.0,483.4 589.1,486.2 589.2,485.2 591.2,486.7 599.6,481.6 599.7,481.0 600.7,480.6 608.7,478.4 608.8,477.4 613.8,476.6 613.8,475.9 619.8,474.2 620.9,473.3 621.0,472.2 625.4,467.2 625.5,466.5 627.7,463.9 632.5,449.5 635.3,437.5 640.9,433.6 647.2,434.3 647.2,433.5 652.4,434.6 652.4,433.7 656.6,434.8 656.6,433.9 657.6,434.4 659.2,408.9 662.4,402.5 664.0,381.8 665.6,362.7 674.3,358.4 674.3,357.8 677.5,356.4 678.5,357.4" fill="none" stroke="#5A8CC8" stroke-width="2.35" stroke-linejoin="round"/>
<polyline points="355.5,352.0 363.8,347.3 365.9,348.0 365.9,347.1 369.0,347.9 371.1,349.9 371.2,348.8 379.8,355.7 379.8,354.6 381.9,356.6 387.9,360.9 388.0,360.4 392.9,364.2 393.0,363.8 396.9,367.0 397.0,366.3 402.9,371.2 403.0,370.1 410.9,376.6 411.0,375.5 416.0,379.8 416.0,379.0 420.0,382.3 420.0,381.8 429.0,388.6 429.0,387.7 436.0,393.1 436.0,392.6 440.0,395.5 443.0,397.7 443.1,397.1 452.0,403.5 452.1,402.8 456.0,405.9 456.1,405.5 460.0,408.8 460.1,407.7 469.0,414.5 469.1,413.4 474.0,417.4 474.1,416.9 480.0,421.0 481.0,421.8 481.1,421.1 491.1,426.4 491.2,425.5 498.2,429.4 498.3,428.8 505.3,432.6 505.4,431.9 510.4,434.5 514.4,436.6 514.4,435.8 522.4,440.1 522.4,439.4 529.4,443.2 529.4,442.4 537.4,446.5 537.4,446.0 538.4,446.7 540.7,446.7 550.0,450.7 550.0,449.7 560.2,454.6 560.3,453.7 562.3,454.9 571.3,458.1 571.4,457.1 581.4,460.8 581.4,460.4 586.4,462.1 591.6,465.1 591.7,464.0 595.8,467.0 595.9,466.1 600.0,468.5 603.2,470.0 603.3,469.6 607.5,472.0 607.6,471.2 611.8,473.4 616.9,475.7 616.9,474.8 621.0,476.9 621.0,476.5 623.0,477.4 631.4,472.9 631.5,472.0 632.5,471.8 640.5,465.5 641.6,466.2 641.6,465.3 647.9,467.5 647.9,467.0 650.0,467.8 653.2,455.9 658.0,452.7 660.4,447.6 660.4,446.7 662.7,441.6 663.2,435.9 668.8,424.8 671.4,419.9 671.4,419.0 672.7,416.8 675.9,397.7 678.5,357.4" fill="none" stroke="#461946" stroke-width="2.35" stroke-linejoin="round"/>
<polyline points="355.6,350.2 358.5,343.8 361.4,340.3 363.8,337.9 364.8,338.0 364.9,337.5 367.8,337.3 370.8,336.2 373.7,337.6 376.6,335.6 377.8,336.1 377.8,335.1 380.1,335.6 387.8,341.1 387.8,340.2 388.9,341.4 394.2,345.4 394.3,344.7 401.7,350.2 402.9,350.8 402.9,350.0 405.2,350.8 414.6,356.8 414.7,356.3 415.7,357.2 423.0,363.1 423.1,362.2 425.1,364.2 435.0,371.2 436.0,372.2 436.1,371.5 444.0,377.7 444.1,376.6 448.0,380.1 448.1,379.4 449.0,380.4 458.2,386.0 458.2,385.6 468.4,392.2 468.4,391.4 474.5,395.9 474.5,394.9 476.5,396.6 480.0,400.6 487.2,404.9 487.2,404.1 492.3,407.8 492.4,406.7 496.5,409.9 496.5,409.1 501.6,412.3 506.3,412.3 508.3,413.9 508.4,413.2 514.4,417.9 514.5,416.9 524.6,424.1 524.6,423.6 525.6,424.5 535.1,429.1 535.1,428.6 537.2,429.8 539.0,428.6 547.5,434.2 547.5,433.5 555.9,439.1 556.9,439.3 557.0,438.5 560.0,438.3 563.9,437.8 564.9,438.8 565.0,438.1 571.1,442.9 571.1,442.0 579.2,448.2 579.3,447.4 586.4,452.5 590.5,454.0 590.5,453.4 596.6,456.0 596.7,455.0 600.7,456.7 602.8,456.2 602.9,455.5 603.9,455.4 607.9,457.3 608.0,456.8 615.0,459.9 616.2,459.4 616.2,458.8 619.8,456.7 623.0,458.3 623.0,457.4 629.3,460.4 629.4,459.8 634.6,462.5 634.7,461.4 635.7,462.3 640.5,458.3 642.5,459.5 642.6,458.8 648.6,462.1 648.6,461.4 651.6,463.1 656.9,454.3 657.0,453.2 658.0,451.9 664.3,451.1 666.7,443.2 668.0,434.0 675.5,393.5 678.5,357.4" fill="none" stroke="#96642D" stroke-width="2.35" stroke-linejoin="round"/>
<polyline points="355.5,353.0 357.3,354.9 359.7,357.8 365.5,358.4 368.5,360.7 368.6,360.0 375.5,365.1 375.6,364.6 383.5,370.3 383.6,369.7 389.5,374.2 389.6,373.6 395.6,378.0 395.6,377.6 401.6,382.0 401.6,381.4 408.6,386.5 408.6,385.9 417.6,392.3 417.6,391.8 421.6,394.6 424.7,397.0 424.7,396.6 430.8,401.5 430.9,400.9 439.0,407.4 439.0,406.7 440.0,407.8 445.0,411.4 445.1,411.0 454.0,417.6 454.1,417.1 460.0,421.6 460.1,421.2 469.0,427.8 469.1,427.3 478.0,433.9 478.1,433.4 480.0,435.0 489.1,441.6 489.2,441.0 495.2,445.5 499.3,448.1 499.3,447.6 503.4,450.2 509.4,454.3 509.5,453.9 515.5,458.2 515.5,457.7 523.5,463.3 523.6,462.9 527.6,465.9 527.6,465.5 531.6,468.6 531.6,467.9 532.6,468.9 541.9,475.0 541.9,474.2 548.0,478.7 548.1,478.1 554.2,482.2 557.3,484.4 557.3,483.9 564.4,489.1 564.5,488.4 574.7,495.6 574.7,495.1 581.9,500.3 581.9,499.6 588.0,503.9 591.2,503.1 594.2,504.4 594.3,503.8 601.3,506.7 601.3,506.3 602.3,506.8 612.4,509.9 612.4,509.5 620.4,512.4 620.4,511.8 621.4,512.4 625.6,510.5 625.6,510.0 627.7,509.2 630.9,510.1 630.9,509.5 638.3,511.7 638.4,511.0 643.6,512.4 646.8,506.8 648.9,501.7 649.0,501.3 650.0,498.9 656.4,497.3 658.7,495.3 658.7,494.7 664.3,489.3 665.5,486.8 665.5,486.3 669.1,478.2 671.5,463.9 673.9,448.0 678.5,357.4" fill="none" stroke="#7355A0" stroke-width="2.35" stroke-linejoin="round"/>
<polyline points="355.5,351.4 362.0,349.6 363.2,349.8 363.2,349.1 366.7,349.0 371.3,352.3 371.4,351.3 372.5,352.5 376.8,355.2 376.8,354.5 384.2,359.0 385.2,359.8 385.3,359.3 392.4,364.1 392.5,363.2 396.6,366.2 396.6,365.8 401.7,368.9 405.7,371.8 405.8,371.3 412.8,376.6 412.9,375.8 420.9,382.0 421.0,381.0 424.9,384.6 425.0,383.8 430.0,387.5 431.0,388.4 431.1,387.9 439.0,393.6 439.1,393.1 440.0,394.0 446.4,398.3 446.4,397.7 452.8,402.0 457.8,405.6 457.9,404.6 463.9,409.2 463.9,408.5 469.9,413.1 470.0,412.0 477.0,417.3 477.0,416.4 480.0,418.7 487.4,423.1 487.5,422.4 491.7,425.1 496.0,427.9 496.0,427.0 503.4,431.5 504.4,432.1 504.4,431.6 509.4,434.0 509.4,433.2 510.4,433.9 518.5,438.5 519.5,439.4 519.6,438.6 528.6,444.0 528.6,443.0 532.6,445.5 537.9,448.6 538.0,447.9 545.4,452.0 548.5,453.6 548.6,452.9 556.9,456.8 556.9,456.3 560.0,457.8 566.1,460.7 566.1,459.9 576.2,464.7 576.3,464.1 584.4,468.0 584.4,467.3 586.4,468.5 594.6,471.7 594.6,470.9 598.7,473.3 598.7,472.1 600.7,473.4 603.7,474.6 603.8,473.7 612.8,476.9 612.8,475.9 616.8,477.6 616.8,477.2 619.8,478.2 623.8,479.3 623.9,478.8 628.9,480.4 628.9,479.9 630.9,480.6 635.7,478.2 638.7,477.8 638.8,477.3 642.8,477.0 642.8,476.3 646.8,475.8 647.8,475.8 647.8,474.8 654.8,471.8 658.0,469.6 658.0,468.8 664.3,463.9 666.7,461.8 666.8,461.2 669.1,459.1 673.9,448.0 678.5,357.4" fill="none" stroke="#E63278" stroke-width="2.35" stroke-linejoin="round"/>
<polyline points="366.7,363.0 413.4,394.9 440.0,413.5 480.0,440.3 523.2,468.9 554.2,490.5 570.3,499.5 588.0,506.8 597.3,508.6 608.1,512.4 621.6,520.3 635.1,526.0 654.0,532.7 662.2,531.6 668.9,526.5 673.0,515.5 674.3,496.2 675.7,480.0 676.6,430.0 677.5,400.0 678.5,357.4" fill="none" stroke="#DCD250" stroke-width="2.35" stroke-linejoin="round"/>
<polyline points="355.5,352.0 362.0,353.0 363.0,353.1 363.1,352.6 368.0,352.0 369.0,352.9 369.1,352.2 375.0,356.2 375.1,355.2 380.0,358.6 380.1,358.2 385.0,361.0 391.0,365.6 391.1,364.6 396.0,369.0 396.1,368.0 400.0,371.6 400.1,370.8 410.0,378.5 410.1,377.6 417.0,383.2 417.1,382.5 423.0,387.5 423.1,386.4 432.0,393.5 432.1,392.6 440.0,398.5 443.0,400.7 443.1,400.3 449.0,404.8 449.1,404.2 455.0,408.8 455.1,408.2 461.0,413.0 461.1,412.0 466.0,416.0 466.1,415.6 476.0,422.8 476.1,422.1 480.0,425.1 482.0,426.4 482.1,425.8 492.1,431.5 492.1,430.8 500.1,435.4 500.2,434.9 508.2,439.6 508.2,438.8 509.2,439.7 513.3,442.4 513.4,441.8 523.6,448.4 523.6,447.9 532.8,454.1 532.9,453.1 538.0,456.9 538.0,456.3 543.1,459.6 545.4,457.8 549.6,459.7 549.6,458.9 555.8,462.1 555.9,461.0 560.0,463.0 562.3,464.5 564.3,465.7 564.4,464.9 569.3,467.8 569.4,466.9 577.4,471.1 577.4,470.0 581.4,472.5 581.4,471.9 586.4,474.2 590.6,475.8 590.6,475.1 600.0,478.2 601.1,479.2 601.1,478.7 605.4,482.3 605.4,481.3 611.8,486.1 613.9,486.9 613.9,486.1 618.0,487.6 618.1,487.1 626.3,489.3 626.4,488.7 635.7,490.9 636.7,491.4 636.8,490.6 644.9,492.4 644.9,491.4 650.0,492.5 652.1,490.1 652.2,489.6 653.2,488.5 659.5,487.7 661.6,485.3 661.7,484.9 665.9,479.8 669.5,474.3 669.5,473.3 670.7,471.8 672.3,455.9 678.5,357.4" fill="none" stroke="#6E4B64" stroke-width="2.35" stroke-linejoin="round"/>
<rect x="359.1" y="467.70" width="7.6" height="2.6" fill="#50C6D6"/>
<text transform="translate(370.8,471.10) scale(0.885,1)" font-size="6.0" fill="#1A1A1A" stroke="#1A1A1A" stroke-width="0.1">KEGG_ANTIGEN_PROCESSING_AND_PRESENTATION</text>
<rect x="359.1" y="477.96" width="7.6" height="2.6" fill="#781432"/>
<text transform="translate(370.8,481.36) scale(0.885,1)" font-size="6.0" fill="#1A1A1A" stroke="#1A1A1A" stroke-width="0.1">KEGG_B_CELL_RECEPTOR_SIGNALING_PATHWAY</text>
<rect x="359.1" y="488.22" width="7.6" height="2.6" fill="#5A8CC8"/>
<text transform="translate(370.8,491.62) scale(0.885,1)" font-size="6.0" fill="#1A1A1A" stroke="#1A1A1A" stroke-width="0.1">KEGG_FATTY_ACID_METABOLISM</text>
<rect x="359.1" y="498.48" width="7.6" height="2.6" fill="#461946"/>
<text transform="translate(370.8,501.88) scale(0.885,1)" font-size="6.0" fill="#1A1A1A" stroke="#1A1A1A" stroke-width="0.1">KEGG_FC_EPSILON_RI_SIGNALING_PATHWAY</text>
<rect x="359.1" y="508.74" width="7.6" height="2.6" fill="#96642D"/>
<text transform="translate(370.8,512.14) scale(0.885,1)" font-size="6.0" fill="#1A1A1A" stroke="#1A1A1A" stroke-width="0.1">KEGG_FC_GAMMA_R_MEDIATED_PHAGOCYTOSIS</text>
<rect x="359.1" y="519.00" width="7.6" height="2.6" fill="#7355A0"/>
<text transform="translate(370.8,522.40) scale(0.885,1)" font-size="6.0" fill="#1A1A1A" stroke="#1A1A1A" stroke-width="0.1">KEGG_INTESTINAL_IMMUNE_NETWORK_FOR_IGA_PRODUCTION</text>
<rect x="359.1" y="529.26" width="7.6" height="2.6" fill="#E63278"/>
<text transform="translate(370.8,532.66) scale(0.885,1)" font-size="6.0" fill="#1A1A1A" stroke="#1A1A1A" stroke-width="0.1">KEGG_NATURAL_KILLER_CELL_MEDIATED_CYTOTOXICITY</text>
<rect x="359.1" y="539.52" width="7.6" height="2.6" fill="#DCD250"/>
<text transform="translate(370.8,542.92) scale(0.885,1)" font-size="6.0" fill="#1A1A1A" stroke="#1A1A1A" stroke-width="0.1">KEGG_PRIMARY_IMMUNODEFICIENCY</text>
<rect x="359.1" y="549.78" width="7.6" height="2.6" fill="#6E4B64"/>
<text transform="translate(370.8,553.18) scale(0.885,1)" font-size="6.0" fill="#1A1A1A" stroke="#1A1A1A" stroke-width="0.1">KEGG_T_CELL_RECEPTOR_SIGNALING_PATHWAY</text>
<rect x="357.9" y="573.70" width="0.75" height="4.70" fill="#6E4B64" fill-opacity="0.36"/>
<rect x="359.8" y="573.70" width="0.75" height="4.70" fill="#6E4B64" fill-opacity="0.36"/>
<rect x="361.7" y="573.70" width="0.75" height="4.70" fill="#6E4B64" fill-opacity="0.36"/>
<rect x="364.1" y="573.70" width="0.75" height="4.70" fill="#6E4B64" fill-opacity="0.36"/>
<rect x="364.6" y="573.70" width="0.75" height="4.70" fill="#6E4B64" fill-opacity="0.36"/>
<rect x="367.9" y="573.70" width="0.75" height="4.70" fill="#6E4B64" fill-opacity="0.36"/>
<rect x="371.7" y="573.70" width="0.75" height="4.70" fill="#6E4B64" fill-opacity="0.36"/>
<rect x="374.0" y="573.70" width="0.75" height="4.70" fill="#6E4B64" fill-opacity="0.36"/>
<rect x="375.0" y="573.70" width="0.75" height="4.70" fill="#6E4B64" fill-opacity="0.36"/>
<rect x="379.7" y="573.70" width="0.75" height="4.70" fill="#6E4B64" fill-opacity="0.36"/>
<rect x="384.0" y="573.70" width="0.75" height="4.70" fill="#6E4B64" fill-opacity="0.36"/>
<rect x="385.9" y="573.70" width="0.75" height="4.70" fill="#6E4B64" fill-opacity="0.36"/>
<rect x="399.2" y="573.70" width="0.75" height="4.70" fill="#6E4B64" fill-opacity="0.36"/>
<rect x="402.0" y="573.70" width="0.75" height="4.70" fill="#6E4B64" fill-opacity="0.36"/>
<rect x="403.5" y="573.70" width="0.75" height="4.70" fill="#6E4B64" fill-opacity="0.36"/>
<rect x="410.1" y="573.70" width="0.75" height="4.70" fill="#6E4B64" fill-opacity="0.36"/>
<rect x="422.0" y="573.70" width="0.75" height="4.70" fill="#6E4B64" fill-opacity="0.36"/>
<rect x="436.7" y="573.70" width="0.75" height="4.70" fill="#6E4B64" fill-opacity="0.36"/>
<rect x="449.0" y="573.70" width="0.75" height="4.70" fill="#6E4B64" fill-opacity="0.36"/>
<rect x="451.9" y="573.70" width="0.75" height="4.70" fill="#6E4B64" fill-opacity="0.36"/>
<rect x="452.8" y="573.70" width="0.75" height="4.70" fill="#6E4B64" fill-opacity="0.36"/>
<rect x="455.7" y="573.70" width="0.75" height="4.70" fill="#6E4B64" fill-opacity="0.36"/>
<rect x="467.0" y="573.70" width="0.75" height="4.70" fill="#6E4B64" fill-opacity="0.36"/>
<rect x="471.8" y="573.70" width="0.75" height="4.70" fill="#6E4B64" fill-opacity="0.36"/>
<rect x="477.5" y="573.70" width="0.75" height="4.70" fill="#6E4B64" fill-opacity="0.36"/>
<rect x="482.7" y="573.70" width="0.75" height="4.70" fill="#6E4B64" fill-opacity="0.36"/>
<rect x="496.5" y="573.70" width="0.75" height="4.70" fill="#6E4B64" fill-opacity="0.36"/>
<rect x="502.2" y="573.70" width="0.75" height="4.70" fill="#6E4B64" fill-opacity="0.36"/>
<rect x="505.9" y="573.70" width="0.75" height="4.70" fill="#6E4B64" fill-opacity="0.36"/>
<rect x="506.9" y="573.70" width="0.75" height="4.70" fill="#6E4B64" fill-opacity="0.36"/>
<rect x="507.8" y="573.70" width="0.75" height="4.70" fill="#6E4B64" fill-opacity="0.36"/>
<rect x="508.8" y="573.70" width="0.75" height="4.70" fill="#6E4B64" fill-opacity="0.36"/>
<rect x="510.7" y="573.70" width="0.75" height="4.70" fill="#6E4B64" fill-opacity="0.36"/>
<rect x="524.4" y="573.70" width="0.75" height="4.70" fill="#6E4B64" fill-opacity="0.36"/>
<rect x="531.1" y="573.70" width="0.75" height="4.70" fill="#6E4B64" fill-opacity="0.36"/>
<rect x="536.8" y="573.70" width="0.75" height="4.70" fill="#6E4B64" fill-opacity="0.36"/>
<rect x="544.4" y="573.70" width="0.75" height="4.70" fill="#6E4B64" fill-opacity="0.36"/>
<rect x="549.1" y="573.70" width="0.75" height="4.70" fill="#6E4B64" fill-opacity="0.36"/>
<rect x="553.9" y="573.70" width="0.75" height="4.70" fill="#6E4B64" fill-opacity="0.36"/>
<rect x="556.7" y="573.70" width="0.75" height="4.70" fill="#6E4B64" fill-opacity="0.36"/>
<rect x="563.4" y="573.70" width="0.75" height="4.70" fill="#6E4B64" fill-opacity="0.36"/>
<rect x="566.7" y="573.70" width="0.75" height="4.70" fill="#6E4B64" fill-opacity="0.36"/>
<rect x="567.6" y="573.70" width="0.75" height="4.70" fill="#6E4B64" fill-opacity="0.36"/>
<rect x="572.8" y="573.70" width="0.75" height="4.70" fill="#6E4B64" fill-opacity="0.36"/>
<rect x="580.0" y="573.70" width="0.75" height="4.70" fill="#6E4B64" fill-opacity="0.36"/>
<rect x="588.0" y="573.70" width="0.75" height="4.70" fill="#6E4B64" fill-opacity="0.36"/>
<rect x="590.4" y="573.70" width="0.75" height="4.70" fill="#6E4B64" fill-opacity="0.36"/>
<rect x="600.4" y="573.70" width="0.75" height="4.70" fill="#6E4B64" fill-opacity="0.36"/>
<rect x="611.3" y="573.70" width="0.75" height="4.70" fill="#6E4B64" fill-opacity="0.36"/>
<rect x="617.0" y="573.70" width="0.75" height="4.70" fill="#6E4B64" fill-opacity="0.36"/>
<rect x="619.3" y="573.70" width="0.75" height="4.70" fill="#6E4B64" fill-opacity="0.36"/>
<rect x="626.9" y="573.70" width="0.75" height="4.70" fill="#6E4B64" fill-opacity="0.36"/>
<rect x="628.8" y="573.70" width="0.75" height="4.70" fill="#6E4B64" fill-opacity="0.36"/>
<rect x="635.0" y="573.70" width="0.75" height="4.70" fill="#6E4B64" fill-opacity="0.36"/>
<rect x="635.9" y="573.70" width="0.75" height="4.70" fill="#6E4B64" fill-opacity="0.36"/>
<rect x="639.7" y="573.70" width="0.75" height="4.70" fill="#6E4B64" fill-opacity="0.36"/>
<rect x="642.1" y="573.70" width="0.75" height="4.70" fill="#6E4B64" fill-opacity="0.36"/>
<rect x="650.7" y="573.70" width="0.75" height="4.70" fill="#6E4B64" fill-opacity="0.36"/>
<rect x="655.9" y="573.70" width="0.75" height="4.70" fill="#6E4B64" fill-opacity="0.36"/>
<rect x="659.2" y="573.70" width="0.75" height="4.70" fill="#6E4B64" fill-opacity="0.36"/>
<rect x="660.1" y="573.70" width="0.75" height="4.70" fill="#6E4B64" fill-opacity="0.36"/>
<rect x="662.0" y="573.70" width="0.75" height="4.70" fill="#6E4B64" fill-opacity="0.36"/>
<rect x="665.8" y="573.70" width="0.75" height="4.70" fill="#6E4B64" fill-opacity="0.36"/>
<rect x="668.7" y="573.70" width="0.75" height="4.70" fill="#6E4B64" fill-opacity="0.36"/>
<rect x="671.1" y="573.70" width="0.75" height="4.70" fill="#6E4B64" fill-opacity="0.36"/>
<rect x="672.9" y="573.70" width="0.75" height="4.70" fill="#6E4B64" fill-opacity="0.36"/>
<rect x="673.9" y="573.70" width="0.75" height="4.70" fill="#6E4B64" fill-opacity="0.36"/>
<rect x="675.3" y="573.70" width="0.75" height="4.70" fill="#6E4B64" fill-opacity="0.36"/>
<rect x="676.3" y="573.70" width="0.75" height="4.70" fill="#6E4B64" fill-opacity="0.36"/>
<rect x="677.7" y="573.70" width="0.75" height="4.70" fill="#6E4B64" fill-opacity="0.36"/>
<rect x="678.2" y="573.70" width="0.75" height="4.70" fill="#6E4B64" fill-opacity="0.36"/>
<rect x="676.50" y="573.70" width="0.6" height="4.70" fill="#6E4B64" fill-opacity="0.4"/>
<rect x="677.05" y="573.70" width="0.6" height="4.70" fill="#6E4B64" fill-opacity="0.4"/>
<rect x="677.60" y="573.70" width="0.6" height="4.70" fill="#6E4B64" fill-opacity="0.4"/>
<rect x="678.15" y="573.70" width="0.6" height="4.70" fill="#6E4B64" fill-opacity="0.4"/>
<rect x="678.70" y="573.70" width="0.6" height="4.70" fill="#6E4B64" fill-opacity="0.4"/>
<rect x="366.0" y="578.40" width="0.75" height="4.70" fill="#DCD250" fill-opacity="0.36"/>
<rect x="408.2" y="578.40" width="0.75" height="4.70" fill="#DCD250" fill-opacity="0.36"/>
<rect x="472.7" y="578.40" width="0.75" height="4.70" fill="#DCD250" fill-opacity="0.36"/>
<rect x="502.2" y="578.40" width="0.75" height="4.70" fill="#DCD250" fill-opacity="0.36"/>
<rect x="549.1" y="578.40" width="0.75" height="4.70" fill="#DCD250" fill-opacity="0.36"/>
<rect x="550.1" y="578.40" width="0.75" height="4.70" fill="#DCD250" fill-opacity="0.36"/>
<rect x="570.9" y="578.40" width="0.75" height="4.70" fill="#DCD250" fill-opacity="0.36"/>
<rect x="581.4" y="578.40" width="0.75" height="4.70" fill="#DCD250" fill-opacity="0.36"/>
<rect x="588.0" y="578.40" width="0.75" height="4.70" fill="#DCD250" fill-opacity="0.36"/>
<rect x="602.3" y="578.40" width="0.75" height="4.70" fill="#DCD250" fill-opacity="0.36"/>
<rect x="626.5" y="578.40" width="0.75" height="4.70" fill="#DCD250" fill-opacity="0.36"/>
<rect x="635.0" y="578.40" width="0.75" height="4.70" fill="#DCD250" fill-opacity="0.36"/>
<rect x="653.0" y="578.40" width="0.75" height="4.70" fill="#DCD250" fill-opacity="0.36"/>
<rect x="659.7" y="578.40" width="0.75" height="4.70" fill="#DCD250" fill-opacity="0.36"/>
<rect x="665.4" y="578.40" width="0.75" height="4.70" fill="#DCD250" fill-opacity="0.36"/>
<rect x="669.2" y="578.40" width="0.75" height="4.70" fill="#DCD250" fill-opacity="0.36"/>
<rect x="672.0" y="578.40" width="0.75" height="4.70" fill="#DCD250" fill-opacity="0.36"/>
<rect x="675.3" y="578.40" width="0.75" height="4.70" fill="#DCD250" fill-opacity="0.36"/>
<rect x="676.3" y="578.40" width="0.75" height="4.70" fill="#DCD250" fill-opacity="0.36"/>
<rect x="677.2" y="578.40" width="0.75" height="4.70" fill="#DCD250" fill-opacity="0.36"/>
<rect x="678.2" y="578.40" width="0.75" height="4.70" fill="#DCD250" fill-opacity="0.36"/>
<rect x="676.50" y="578.40" width="0.6" height="4.70" fill="#DCD250" fill-opacity="0.4"/>
<rect x="677.05" y="578.40" width="0.6" height="4.70" fill="#DCD250" fill-opacity="0.4"/>
<rect x="677.60" y="578.40" width="0.6" height="4.70" fill="#DCD250" fill-opacity="0.4"/>
<rect x="678.15" y="578.40" width="0.6" height="4.70" fill="#DCD250" fill-opacity="0.4"/>
<rect x="678.70" y="578.40" width="0.6" height="4.70" fill="#DCD250" fill-opacity="0.4"/>
<rect x="355.1" y="583.10" width="0.75" height="4.70" fill="#E63278" fill-opacity="0.36"/>
<rect x="356.0" y="583.10" width="0.75" height="4.70" fill="#E63278" fill-opacity="0.36"/>
<rect x="357.9" y="583.10" width="0.75" height="4.70" fill="#E63278" fill-opacity="0.36"/>
<rect x="359.8" y="583.10" width="0.75" height="4.70" fill="#E63278" fill-opacity="0.36"/>
<rect x="361.7" y="583.10" width="0.75" height="4.70" fill="#E63278" fill-opacity="0.36"/>
<rect x="363.6" y="583.10" width="0.75" height="4.70" fill="#E63278" fill-opacity="0.36"/>
<rect x="364.1" y="583.10" width="0.75" height="4.70" fill="#E63278" fill-opacity="0.36"/>
<rect x="367.9" y="583.10" width="0.75" height="4.70" fill="#E63278" fill-opacity="0.36"/>
<rect x="374.0" y="583.10" width="0.75" height="4.70" fill="#E63278" fill-opacity="0.36"/>
<rect x="385.0" y="583.10" width="0.75" height="4.70" fill="#E63278" fill-opacity="0.36"/>
<rect x="385.9" y="583.10" width="0.75" height="4.70" fill="#E63278" fill-opacity="0.36"/>
<rect x="387.8" y="583.10" width="0.75" height="4.70" fill="#E63278" fill-opacity="0.36"/>
<rect x="399.2" y="583.10" width="0.75" height="4.70" fill="#E63278" fill-opacity="0.36"/>
<rect x="400.1" y="583.10" width="0.75" height="4.70" fill="#E63278" fill-opacity="0.36"/>
<rect x="401.1" y="583.10" width="0.75" height="4.70" fill="#E63278" fill-opacity="0.36"/>
<rect x="402.5" y="583.10" width="0.75" height="4.70" fill="#E63278" fill-opacity="0.36"/>
<rect x="403.9" y="583.10" width="0.75" height="4.70" fill="#E63278" fill-opacity="0.36"/>
<rect x="409.2" y="583.10" width="0.75" height="4.70" fill="#E63278" fill-opacity="0.36"/>
<rect x="410.1" y="583.10" width="0.75" height="4.70" fill="#E63278" fill-opacity="0.36"/>
<rect x="412.5" y="583.10" width="0.75" height="4.70" fill="#E63278" fill-opacity="0.36"/>
<rect x="413.4" y="583.10" width="0.75" height="4.70" fill="#E63278" fill-opacity="0.36"/>
<rect x="418.2" y="583.10" width="0.75" height="4.70" fill="#E63278" fill-opacity="0.36"/>
<rect x="420.1" y="583.10" width="0.75" height="4.70" fill="#E63278" fill-opacity="0.36"/>
<rect x="425.8" y="583.10" width="0.75" height="4.70" fill="#E63278" fill-opacity="0.36"/>
<rect x="436.7" y="583.10" width="0.75" height="4.70" fill="#E63278" fill-opacity="0.36"/>
<rect x="449.0" y="583.10" width="0.75" height="4.70" fill="#E63278" fill-opacity="0.36"/>
<rect x="451.9" y="583.10" width="0.75" height="4.70" fill="#E63278" fill-opacity="0.36"/>
<rect x="452.8" y="583.10" width="0.75" height="4.70" fill="#E63278" fill-opacity="0.36"/>
<rect x="455.2" y="583.10" width="0.75" height="4.70" fill="#E63278" fill-opacity="0.36"/>
<rect x="458.5" y="583.10" width="0.75" height="4.70" fill="#E63278" fill-opacity="0.36"/>
<rect x="459.4" y="583.10" width="0.75" height="4.70" fill="#E63278" fill-opacity="0.36"/>
<rect x="467.0" y="583.10" width="0.75" height="4.70" fill="#E63278" fill-opacity="0.36"/>
<rect x="468.0" y="583.10" width="0.75" height="4.70" fill="#E63278" fill-opacity="0.36"/>
<rect x="471.8" y="583.10" width="0.75" height="4.70" fill="#E63278" fill-opacity="0.36"/>
<rect x="474.2" y="583.10" width="0.75" height="4.70" fill="#E63278" fill-opacity="0.36"/>
<rect x="477.5" y="583.10" width="0.75" height="4.70" fill="#E63278" fill-opacity="0.36"/>
<rect x="484.1" y="583.10" width="0.75" height="4.70" fill="#E63278" fill-opacity="0.36"/>
<rect x="485.1" y="583.10" width="0.75" height="4.70" fill="#E63278" fill-opacity="0.36"/>
<rect x="488.4" y="583.10" width="0.75" height="4.70" fill="#E63278" fill-opacity="0.36"/>
<rect x="494.1" y="583.10" width="0.75" height="4.70" fill="#E63278" fill-opacity="0.36"/>
<rect x="500.3" y="583.10" width="0.75" height="4.70" fill="#E63278" fill-opacity="0.36"/>
<rect x="503.1" y="583.10" width="0.75" height="4.70" fill="#E63278" fill-opacity="0.36"/>
<rect x="505.9" y="583.10" width="0.75" height="4.70" fill="#E63278" fill-opacity="0.36"/>
<rect x="509.7" y="583.10" width="0.75" height="4.70" fill="#E63278" fill-opacity="0.36"/>
<rect x="511.2" y="583.10" width="0.75" height="4.70" fill="#E63278" fill-opacity="0.36"/>
<rect x="516.9" y="583.10" width="0.75" height="4.70" fill="#E63278" fill-opacity="0.36"/>
<rect x="531.1" y="583.10" width="0.75" height="4.70" fill="#E63278" fill-opacity="0.36"/>
<rect x="534.9" y="583.10" width="0.75" height="4.70" fill="#E63278" fill-opacity="0.36"/>
<rect x="536.8" y="583.10" width="0.75" height="4.70" fill="#E63278" fill-opacity="0.36"/>
<rect x="544.4" y="583.10" width="0.75" height="4.70" fill="#E63278" fill-opacity="0.36"/>
<rect x="549.1" y="583.10" width="0.75" height="4.70" fill="#E63278" fill-opacity="0.36"/>
<rect x="550.1" y="583.10" width="0.75" height="4.70" fill="#E63278" fill-opacity="0.36"/>
<rect x="552.0" y="583.10" width="0.75" height="4.70" fill="#E63278" fill-opacity="0.36"/>
<rect x="558.1" y="583.10" width="0.75" height="4.70" fill="#E63278" fill-opacity="0.36"/>
<rect x="563.4" y="583.10" width="0.75" height="4.70" fill="#E63278" fill-opacity="0.36"/>
<rect x="566.7" y="583.10" width="0.75" height="4.70" fill="#E63278" fill-opacity="0.36"/>
<rect x="569.0" y="583.10" width="0.75" height="4.70" fill="#E63278" fill-opacity="0.36"/>
<rect x="570.9" y="583.10" width="0.75" height="4.70" fill="#E63278" fill-opacity="0.36"/>
<rect x="583.3" y="583.10" width="0.75" height="4.70" fill="#E63278" fill-opacity="0.36"/>
<rect x="588.5" y="583.10" width="0.75" height="4.70" fill="#E63278" fill-opacity="0.36"/>
<rect x="593.7" y="583.10" width="0.75" height="4.70" fill="#E63278" fill-opacity="0.36"/>
<rect x="599.9" y="583.10" width="0.75" height="4.70" fill="#E63278" fill-opacity="0.36"/>
<rect x="601.8" y="583.10" width="0.75" height="4.70" fill="#E63278" fill-opacity="0.36"/>
<rect x="604.2" y="583.10" width="0.75" height="4.70" fill="#E63278" fill-opacity="0.36"/>
<rect x="611.3" y="583.10" width="0.75" height="4.70" fill="#E63278" fill-opacity="0.36"/>
<rect x="614.1" y="583.10" width="0.75" height="4.70" fill="#E63278" fill-opacity="0.36"/>
<rect x="621.2" y="583.10" width="0.75" height="4.70" fill="#E63278" fill-opacity="0.36"/>
<rect x="621.7" y="583.10" width="0.75" height="4.70" fill="#E63278" fill-opacity="0.36"/>
<rect x="627.9" y="583.10" width="0.75" height="4.70" fill="#E63278" fill-opacity="0.36"/>
<rect x="631.2" y="583.10" width="0.75" height="4.70" fill="#E63278" fill-opacity="0.36"/>
<rect x="633.1" y="583.10" width="0.75" height="4.70" fill="#E63278" fill-opacity="0.36"/>
<rect x="635.0" y="583.10" width="0.75" height="4.70" fill="#E63278" fill-opacity="0.36"/>
<rect x="637.4" y="583.10" width="0.75" height="4.70" fill="#E63278" fill-opacity="0.36"/>
<rect x="638.3" y="583.10" width="0.75" height="4.70" fill="#E63278" fill-opacity="0.36"/>
<rect x="643.1" y="583.10" width="0.75" height="4.70" fill="#E63278" fill-opacity="0.36"/>
<rect x="644.5" y="583.10" width="0.75" height="4.70" fill="#E63278" fill-opacity="0.36"/>
<rect x="651.1" y="583.10" width="0.75" height="4.70" fill="#E63278" fill-opacity="0.36"/>
<rect x="654.4" y="583.10" width="0.75" height="4.70" fill="#E63278" fill-opacity="0.36"/>
<rect x="657.3" y="583.10" width="0.75" height="4.70" fill="#E63278" fill-opacity="0.36"/>
<rect x="658.7" y="583.10" width="0.75" height="4.70" fill="#E63278" fill-opacity="0.36"/>
<rect x="661.1" y="583.10" width="0.75" height="4.70" fill="#E63278" fill-opacity="0.36"/>
<rect x="663.9" y="583.10" width="0.75" height="4.70" fill="#E63278" fill-opacity="0.36"/>
<rect x="666.8" y="583.10" width="0.75" height="4.70" fill="#E63278" fill-opacity="0.36"/>
<rect x="667.7" y="583.10" width="0.75" height="4.70" fill="#E63278" fill-opacity="0.36"/>
<rect x="671.5" y="583.10" width="0.75" height="4.70" fill="#E63278" fill-opacity="0.36"/>
<rect x="674.4" y="583.10" width="0.75" height="4.70" fill="#E63278" fill-opacity="0.36"/>
<rect x="675.3" y="583.10" width="0.75" height="4.70" fill="#E63278" fill-opacity="0.36"/>
<rect x="676.3" y="583.10" width="0.75" height="4.70" fill="#E63278" fill-opacity="0.36"/>
<rect x="677.2" y="583.10" width="0.75" height="4.70" fill="#E63278" fill-opacity="0.36"/>
<rect x="678.2" y="583.10" width="0.75" height="4.70" fill="#E63278" fill-opacity="0.36"/>
<rect x="676.50" y="583.10" width="0.6" height="4.70" fill="#E63278" fill-opacity="0.4"/>
<rect x="677.05" y="583.10" width="0.6" height="4.70" fill="#E63278" fill-opacity="0.4"/>
<rect x="677.60" y="583.10" width="0.6" height="4.70" fill="#E63278" fill-opacity="0.4"/>
<rect x="678.15" y="583.10" width="0.6" height="4.70" fill="#E63278" fill-opacity="0.4"/>
<rect x="678.70" y="583.10" width="0.6" height="4.70" fill="#E63278" fill-opacity="0.4"/>
<rect x="355.5" y="587.80" width="0.75" height="4.70" fill="#7355A0" fill-opacity="0.36"/>
<rect x="366.0" y="587.80" width="0.75" height="4.70" fill="#7355A0" fill-opacity="0.36"/>
<rect x="379.7" y="587.80" width="0.75" height="4.70" fill="#7355A0" fill-opacity="0.36"/>
<rect x="495.0" y="587.80" width="0.75" height="4.70" fill="#7355A0" fill-opacity="0.36"/>
<rect x="498.4" y="587.80" width="0.75" height="4.70" fill="#7355A0" fill-opacity="0.36"/>
<rect x="505.9" y="587.80" width="0.75" height="4.70" fill="#7355A0" fill-opacity="0.36"/>
<rect x="530.1" y="587.80" width="0.75" height="4.70" fill="#7355A0" fill-opacity="0.36"/>
<rect x="542.0" y="587.80" width="0.75" height="4.70" fill="#7355A0" fill-opacity="0.36"/>
<rect x="589.0" y="587.80" width="0.75" height="4.70" fill="#7355A0" fill-opacity="0.36"/>
<rect x="590.9" y="587.80" width="0.75" height="4.70" fill="#7355A0" fill-opacity="0.36"/>
<rect x="598.9" y="587.80" width="0.75" height="4.70" fill="#7355A0" fill-opacity="0.36"/>
<rect x="603.2" y="587.80" width="0.75" height="4.70" fill="#7355A0" fill-opacity="0.36"/>
<rect x="609.4" y="587.80" width="0.75" height="4.70" fill="#7355A0" fill-opacity="0.36"/>
<rect x="620.8" y="587.80" width="0.75" height="4.70" fill="#7355A0" fill-opacity="0.36"/>
<rect x="623.1" y="587.80" width="0.75" height="4.70" fill="#7355A0" fill-opacity="0.36"/>
<rect x="626.9" y="587.80" width="0.75" height="4.70" fill="#7355A0" fill-opacity="0.36"/>
<rect x="635.0" y="587.80" width="0.75" height="4.70" fill="#7355A0" fill-opacity="0.36"/>
<rect x="643.1" y="587.80" width="0.75" height="4.70" fill="#7355A0" fill-opacity="0.36"/>
<rect x="645.9" y="587.80" width="0.75" height="4.70" fill="#7355A0" fill-opacity="0.36"/>
<rect x="646.9" y="587.80" width="0.75" height="4.70" fill="#7355A0" fill-opacity="0.36"/>
<rect x="647.8" y="587.80" width="0.75" height="4.70" fill="#7355A0" fill-opacity="0.36"/>
<rect x="653.5" y="587.80" width="0.75" height="4.70" fill="#7355A0" fill-opacity="0.36"/>
<rect x="658.2" y="587.80" width="0.75" height="4.70" fill="#7355A0" fill-opacity="0.36"/>
<rect x="660.1" y="587.80" width="0.75" height="4.70" fill="#7355A0" fill-opacity="0.36"/>
<rect x="663.9" y="587.80" width="0.75" height="4.70" fill="#7355A0" fill-opacity="0.36"/>
<rect x="664.9" y="587.80" width="0.75" height="4.70" fill="#7355A0" fill-opacity="0.36"/>
<rect x="668.2" y="587.80" width="0.75" height="4.70" fill="#7355A0" fill-opacity="0.36"/>
<rect x="671.1" y="587.80" width="0.75" height="4.70" fill="#7355A0" fill-opacity="0.36"/>
<rect x="672.9" y="587.80" width="0.75" height="4.70" fill="#7355A0" fill-opacity="0.36"/>
<rect x="675.3" y="587.80" width="0.75" height="4.70" fill="#7355A0" fill-opacity="0.36"/>
<rect x="677.7" y="587.80" width="0.75" height="4.70" fill="#7355A0" fill-opacity="0.36"/>
<rect x="676.50" y="587.80" width="0.6" height="4.70" fill="#7355A0" fill-opacity="0.4"/>
<rect x="677.05" y="587.80" width="0.6" height="4.70" fill="#7355A0" fill-opacity="0.4"/>
<rect x="677.60" y="587.80" width="0.6" height="4.70" fill="#7355A0" fill-opacity="0.4"/>
<rect x="678.15" y="587.80" width="0.6" height="4.70" fill="#7355A0" fill-opacity="0.4"/>
<rect x="678.70" y="587.80" width="0.6" height="4.70" fill="#7355A0" fill-opacity="0.4"/>
<rect x="355.5" y="592.50" width="0.75" height="4.70" fill="#96642D" fill-opacity="0.36"/>
<rect x="357.0" y="592.50" width="0.75" height="4.70" fill="#96642D" fill-opacity="0.36"/>
<rect x="358.4" y="592.50" width="0.75" height="4.70" fill="#96642D" fill-opacity="0.36"/>
<rect x="359.3" y="592.50" width="0.75" height="4.70" fill="#96642D" fill-opacity="0.36"/>
<rect x="362.2" y="592.50" width="0.75" height="4.70" fill="#96642D" fill-opacity="0.36"/>
<rect x="363.1" y="592.50" width="0.75" height="4.70" fill="#96642D" fill-opacity="0.36"/>
<rect x="363.6" y="592.50" width="0.75" height="4.70" fill="#96642D" fill-opacity="0.36"/>
<rect x="366.9" y="592.50" width="0.75" height="4.70" fill="#96642D" fill-opacity="0.36"/>
<rect x="367.9" y="592.50" width="0.75" height="4.70" fill="#96642D" fill-opacity="0.36"/>
<rect x="368.8" y="592.50" width="0.75" height="4.70" fill="#96642D" fill-opacity="0.36"/>
<rect x="372.2" y="592.50" width="0.75" height="4.70" fill="#96642D" fill-opacity="0.36"/>
<rect x="374.5" y="592.50" width="0.75" height="4.70" fill="#96642D" fill-opacity="0.36"/>
<rect x="375.5" y="592.50" width="0.75" height="4.70" fill="#96642D" fill-opacity="0.36"/>
<rect x="376.9" y="592.50" width="0.75" height="4.70" fill="#96642D" fill-opacity="0.36"/>
<rect x="378.8" y="592.50" width="0.75" height="4.70" fill="#96642D" fill-opacity="0.36"/>
<rect x="385.9" y="592.50" width="0.75" height="4.70" fill="#96642D" fill-opacity="0.36"/>
<rect x="402.5" y="592.50" width="0.75" height="4.70" fill="#96642D" fill-opacity="0.36"/>
<rect x="403.5" y="592.50" width="0.75" height="4.70" fill="#96642D" fill-opacity="0.36"/>
<rect x="404.4" y="592.50" width="0.75" height="4.70" fill="#96642D" fill-opacity="0.36"/>
<rect x="405.4" y="592.50" width="0.75" height="4.70" fill="#96642D" fill-opacity="0.36"/>
<rect x="409.6" y="592.50" width="0.75" height="4.70" fill="#96642D" fill-opacity="0.36"/>
<rect x="411.5" y="592.50" width="0.75" height="4.70" fill="#96642D" fill-opacity="0.36"/>
<rect x="415.3" y="592.50" width="0.75" height="4.70" fill="#96642D" fill-opacity="0.36"/>
<rect x="436.7" y="592.50" width="0.75" height="4.70" fill="#96642D" fill-opacity="0.36"/>
<rect x="439.0" y="592.50" width="0.75" height="4.70" fill="#96642D" fill-opacity="0.36"/>
<rect x="440.5" y="592.50" width="0.75" height="4.70" fill="#96642D" fill-opacity="0.36"/>
<rect x="449.0" y="592.50" width="0.75" height="4.70" fill="#96642D" fill-opacity="0.36"/>
<rect x="453.3" y="592.50" width="0.75" height="4.70" fill="#96642D" fill-opacity="0.36"/>
<rect x="457.6" y="592.50" width="0.75" height="4.70" fill="#96642D" fill-opacity="0.36"/>
<rect x="459.4" y="592.50" width="0.75" height="4.70" fill="#96642D" fill-opacity="0.36"/>
<rect x="462.3" y="592.50" width="0.75" height="4.70" fill="#96642D" fill-opacity="0.36"/>
<rect x="463.7" y="592.50" width="0.75" height="4.70" fill="#96642D" fill-opacity="0.36"/>
<rect x="468.0" y="592.50" width="0.75" height="4.70" fill="#96642D" fill-opacity="0.36"/>
<rect x="475.6" y="592.50" width="0.75" height="4.70" fill="#96642D" fill-opacity="0.36"/>
<rect x="481.3" y="592.50" width="0.75" height="4.70" fill="#96642D" fill-opacity="0.36"/>
<rect x="500.3" y="592.50" width="0.75" height="4.70" fill="#96642D" fill-opacity="0.36"/>
<rect x="503.1" y="592.50" width="0.75" height="4.70" fill="#96642D" fill-opacity="0.36"/>
<rect x="505.0" y="592.50" width="0.75" height="4.70" fill="#96642D" fill-opacity="0.36"/>
<rect x="513.1" y="592.50" width="0.75" height="4.70" fill="#96642D" fill-opacity="0.36"/>
<rect x="525.4" y="592.50" width="0.75" height="4.70" fill="#96642D" fill-opacity="0.36"/>
<rect x="537.3" y="592.50" width="0.75" height="4.70" fill="#96642D" fill-opacity="0.36"/>
<rect x="538.2" y="592.50" width="0.75" height="4.70" fill="#96642D" fill-opacity="0.36"/>
<rect x="556.2" y="592.50" width="0.75" height="4.70" fill="#96642D" fill-opacity="0.36"/>
<rect x="561.0" y="592.50" width="0.75" height="4.70" fill="#96642D" fill-opacity="0.36"/>
<rect x="563.4" y="592.50" width="0.75" height="4.70" fill="#96642D" fill-opacity="0.36"/>
<rect x="588.0" y="592.50" width="0.75" height="4.70" fill="#96642D" fill-opacity="0.36"/>
<rect x="595.1" y="592.50" width="0.75" height="4.70" fill="#96642D" fill-opacity="0.36"/>
<rect x="600.4" y="592.50" width="0.75" height="4.70" fill="#96642D" fill-opacity="0.36"/>
<rect x="603.2" y="592.50" width="0.75" height="4.70" fill="#96642D" fill-opacity="0.36"/>
<rect x="614.1" y="592.50" width="0.75" height="4.70" fill="#96642D" fill-opacity="0.36"/>
<rect x="615.1" y="592.50" width="0.75" height="4.70" fill="#96642D" fill-opacity="0.36"/>
<rect x="619.8" y="592.50" width="0.75" height="4.70" fill="#96642D" fill-opacity="0.36"/>
<rect x="631.2" y="592.50" width="0.75" height="4.70" fill="#96642D" fill-opacity="0.36"/>
<rect x="636.9" y="592.50" width="0.75" height="4.70" fill="#96642D" fill-opacity="0.36"/>
<rect x="639.3" y="592.50" width="0.75" height="4.70" fill="#96642D" fill-opacity="0.36"/>
<rect x="653.0" y="592.50" width="0.75" height="4.70" fill="#96642D" fill-opacity="0.36"/>
<rect x="655.4" y="592.50" width="0.75" height="4.70" fill="#96642D" fill-opacity="0.36"/>
<rect x="656.3" y="592.50" width="0.75" height="4.70" fill="#96642D" fill-opacity="0.36"/>
<rect x="657.8" y="592.50" width="0.75" height="4.70" fill="#96642D" fill-opacity="0.36"/>
<rect x="664.4" y="592.50" width="0.75" height="4.70" fill="#96642D" fill-opacity="0.36"/>
<rect x="665.8" y="592.50" width="0.75" height="4.70" fill="#96642D" fill-opacity="0.36"/>
<rect x="667.7" y="592.50" width="0.75" height="4.70" fill="#96642D" fill-opacity="0.36"/>
<rect x="675.3" y="592.50" width="0.75" height="4.70" fill="#96642D" fill-opacity="0.36"/>
<rect x="676.3" y="592.50" width="0.75" height="4.70" fill="#96642D" fill-opacity="0.36"/>
<rect x="677.7" y="592.50" width="0.75" height="4.70" fill="#96642D" fill-opacity="0.36"/>
<rect x="676.50" y="592.50" width="0.6" height="4.70" fill="#96642D" fill-opacity="0.4"/>
<rect x="677.05" y="592.50" width="0.6" height="4.70" fill="#96642D" fill-opacity="0.4"/>
<rect x="677.60" y="592.50" width="0.6" height="4.70" fill="#96642D" fill-opacity="0.4"/>
<rect x="678.15" y="592.50" width="0.6" height="4.70" fill="#96642D" fill-opacity="0.4"/>
<rect x="678.70" y="592.50" width="0.6" height="4.70" fill="#96642D" fill-opacity="0.4"/>
<rect x="357.9" y="597.20" width="0.75" height="4.70" fill="#461946" fill-opacity="0.36"/>
<rect x="359.8" y="597.20" width="0.75" height="4.70" fill="#461946" fill-opacity="0.36"/>
<rect x="362.2" y="597.20" width="0.75" height="4.70" fill="#461946" fill-opacity="0.36"/>
<rect x="363.1" y="597.20" width="0.75" height="4.70" fill="#461946" fill-opacity="0.36"/>
<rect x="364.1" y="597.20" width="0.75" height="4.70" fill="#461946" fill-opacity="0.36"/>
<rect x="365.0" y="597.20" width="0.75" height="4.70" fill="#461946" fill-opacity="0.36"/>
<rect x="367.9" y="597.20" width="0.75" height="4.70" fill="#461946" fill-opacity="0.36"/>
<rect x="399.2" y="597.20" width="0.75" height="4.70" fill="#461946" fill-opacity="0.36"/>
<rect x="400.1" y="597.20" width="0.75" height="4.70" fill="#461946" fill-opacity="0.36"/>
<rect x="402.0" y="597.20" width="0.75" height="4.70" fill="#461946" fill-opacity="0.36"/>
<rect x="403.5" y="597.20" width="0.75" height="4.70" fill="#461946" fill-opacity="0.36"/>
<rect x="436.7" y="597.20" width="0.75" height="4.70" fill="#461946" fill-opacity="0.36"/>
<rect x="451.9" y="597.20" width="0.75" height="4.70" fill="#461946" fill-opacity="0.36"/>
<rect x="453.8" y="597.20" width="0.75" height="4.70" fill="#461946" fill-opacity="0.36"/>
<rect x="458.5" y="597.20" width="0.75" height="4.70" fill="#461946" fill-opacity="0.36"/>
<rect x="462.3" y="597.20" width="0.75" height="4.70" fill="#461946" fill-opacity="0.36"/>
<rect x="467.0" y="597.20" width="0.75" height="4.70" fill="#461946" fill-opacity="0.36"/>
<rect x="476.5" y="597.20" width="0.75" height="4.70" fill="#461946" fill-opacity="0.36"/>
<rect x="484.1" y="597.20" width="0.75" height="4.70" fill="#461946" fill-opacity="0.36"/>
<rect x="502.2" y="597.20" width="0.75" height="4.70" fill="#461946" fill-opacity="0.36"/>
<rect x="505.9" y="597.20" width="0.75" height="4.70" fill="#461946" fill-opacity="0.36"/>
<rect x="507.8" y="597.20" width="0.75" height="4.70" fill="#461946" fill-opacity="0.36"/>
<rect x="510.2" y="597.20" width="0.75" height="4.70" fill="#461946" fill-opacity="0.36"/>
<rect x="511.2" y="597.20" width="0.75" height="4.70" fill="#461946" fill-opacity="0.36"/>
<rect x="525.9" y="597.20" width="0.75" height="4.70" fill="#461946" fill-opacity="0.36"/>
<rect x="531.1" y="597.20" width="0.75" height="4.70" fill="#461946" fill-opacity="0.36"/>
<rect x="536.8" y="597.20" width="0.75" height="4.70" fill="#461946" fill-opacity="0.36"/>
<rect x="538.7" y="597.20" width="0.75" height="4.70" fill="#461946" fill-opacity="0.36"/>
<rect x="542.0" y="597.20" width="0.75" height="4.70" fill="#461946" fill-opacity="0.36"/>
<rect x="556.7" y="597.20" width="0.75" height="4.70" fill="#461946" fill-opacity="0.36"/>
<rect x="561.0" y="597.20" width="0.75" height="4.70" fill="#461946" fill-opacity="0.36"/>
<rect x="563.4" y="597.20" width="0.75" height="4.70" fill="#461946" fill-opacity="0.36"/>
<rect x="566.2" y="597.20" width="0.75" height="4.70" fill="#461946" fill-opacity="0.36"/>
<rect x="568.1" y="597.20" width="0.75" height="4.70" fill="#461946" fill-opacity="0.36"/>
<rect x="580.0" y="597.20" width="0.75" height="4.70" fill="#461946" fill-opacity="0.36"/>
<rect x="588.0" y="597.20" width="0.75" height="4.70" fill="#461946" fill-opacity="0.36"/>
<rect x="600.4" y="597.20" width="0.75" height="4.70" fill="#461946" fill-opacity="0.36"/>
<rect x="614.1" y="597.20" width="0.75" height="4.70" fill="#461946" fill-opacity="0.36"/>
<rect x="618.9" y="597.20" width="0.75" height="4.70" fill="#461946" fill-opacity="0.36"/>
<rect x="623.1" y="597.20" width="0.75" height="4.70" fill="#461946" fill-opacity="0.36"/>
<rect x="626.9" y="597.20" width="0.75" height="4.70" fill="#461946" fill-opacity="0.36"/>
<rect x="628.4" y="597.20" width="0.75" height="4.70" fill="#461946" fill-opacity="0.36"/>
<rect x="632.6" y="597.20" width="0.75" height="4.70" fill="#461946" fill-opacity="0.36"/>
<rect x="635.0" y="597.20" width="0.75" height="4.70" fill="#461946" fill-opacity="0.36"/>
<rect x="639.7" y="597.20" width="0.75" height="4.70" fill="#461946" fill-opacity="0.36"/>
<rect x="650.7" y="597.20" width="0.75" height="4.70" fill="#461946" fill-opacity="0.36"/>
<rect x="653.0" y="597.20" width="0.75" height="4.70" fill="#461946" fill-opacity="0.36"/>
<rect x="656.3" y="597.20" width="0.75" height="4.70" fill="#461946" fill-opacity="0.36"/>
<rect x="658.7" y="597.20" width="0.75" height="4.70" fill="#461946" fill-opacity="0.36"/>
<rect x="661.1" y="597.20" width="0.75" height="4.70" fill="#461946" fill-opacity="0.36"/>
<rect x="663.9" y="597.20" width="0.75" height="4.70" fill="#461946" fill-opacity="0.36"/>
<rect x="665.8" y="597.20" width="0.75" height="4.70" fill="#461946" fill-opacity="0.36"/>
<rect x="668.7" y="597.20" width="0.75" height="4.70" fill="#461946" fill-opacity="0.36"/>
<rect x="671.1" y="597.20" width="0.75" height="4.70" fill="#461946" fill-opacity="0.36"/>
<rect x="674.4" y="597.20" width="0.75" height="4.70" fill="#461946" fill-opacity="0.36"/>
<rect x="675.8" y="597.20" width="0.75" height="4.70" fill="#461946" fill-opacity="0.36"/>
<rect x="677.2" y="597.20" width="0.75" height="4.70" fill="#461946" fill-opacity="0.36"/>
<rect x="678.2" y="597.20" width="0.75" height="4.70" fill="#461946" fill-opacity="0.36"/>
<rect x="676.50" y="597.20" width="0.6" height="4.70" fill="#461946" fill-opacity="0.4"/>
<rect x="677.05" y="597.20" width="0.6" height="4.70" fill="#461946" fill-opacity="0.4"/>
<rect x="677.60" y="597.20" width="0.6" height="4.70" fill="#461946" fill-opacity="0.4"/>
<rect x="678.15" y="597.20" width="0.6" height="4.70" fill="#461946" fill-opacity="0.4"/>
<rect x="678.70" y="597.20" width="0.6" height="4.70" fill="#461946" fill-opacity="0.4"/>
<rect x="366.9" y="601.90" width="0.75" height="4.70" fill="#5A8CC8" fill-opacity="0.36"/>
<rect x="383.1" y="601.90" width="0.75" height="4.70" fill="#5A8CC8" fill-opacity="0.36"/>
<rect x="384.0" y="601.90" width="0.75" height="4.70" fill="#5A8CC8" fill-opacity="0.36"/>
<rect x="385.0" y="601.90" width="0.75" height="4.70" fill="#5A8CC8" fill-opacity="0.36"/>
<rect x="385.9" y="601.90" width="0.75" height="4.70" fill="#5A8CC8" fill-opacity="0.36"/>
<rect x="394.9" y="601.90" width="0.75" height="4.70" fill="#5A8CC8" fill-opacity="0.36"/>
<rect x="419.1" y="601.90" width="0.75" height="4.70" fill="#5A8CC8" fill-opacity="0.36"/>
<rect x="420.1" y="601.90" width="0.75" height="4.70" fill="#5A8CC8" fill-opacity="0.36"/>
<rect x="446.6" y="601.90" width="0.75" height="4.70" fill="#5A8CC8" fill-opacity="0.36"/>
<rect x="468.9" y="601.90" width="0.75" height="4.70" fill="#5A8CC8" fill-opacity="0.36"/>
<rect x="484.1" y="601.90" width="0.75" height="4.70" fill="#5A8CC8" fill-opacity="0.36"/>
<rect x="496.0" y="601.90" width="0.75" height="4.70" fill="#5A8CC8" fill-opacity="0.36"/>
<rect x="506.4" y="601.90" width="0.75" height="4.70" fill="#5A8CC8" fill-opacity="0.36"/>
<rect x="509.7" y="601.90" width="0.75" height="4.70" fill="#5A8CC8" fill-opacity="0.36"/>
<rect x="525.4" y="601.90" width="0.75" height="4.70" fill="#5A8CC8" fill-opacity="0.36"/>
<rect x="531.6" y="601.90" width="0.75" height="4.70" fill="#5A8CC8" fill-opacity="0.36"/>
<rect x="552.9" y="601.90" width="0.75" height="4.70" fill="#5A8CC8" fill-opacity="0.36"/>
<rect x="590.9" y="601.90" width="0.75" height="4.70" fill="#5A8CC8" fill-opacity="0.36"/>
<rect x="594.2" y="601.90" width="0.75" height="4.70" fill="#5A8CC8" fill-opacity="0.36"/>
<rect x="598.0" y="601.90" width="0.75" height="4.70" fill="#5A8CC8" fill-opacity="0.36"/>
<rect x="600.8" y="601.90" width="0.75" height="4.70" fill="#5A8CC8" fill-opacity="0.36"/>
<rect x="607.9" y="601.90" width="0.75" height="4.70" fill="#5A8CC8" fill-opacity="0.36"/>
<rect x="619.8" y="601.90" width="0.75" height="4.70" fill="#5A8CC8" fill-opacity="0.36"/>
<rect x="622.2" y="601.90" width="0.75" height="4.70" fill="#5A8CC8" fill-opacity="0.36"/>
<rect x="624.6" y="601.90" width="0.75" height="4.70" fill="#5A8CC8" fill-opacity="0.36"/>
<rect x="629.3" y="601.90" width="0.75" height="4.70" fill="#5A8CC8" fill-opacity="0.36"/>
<rect x="629.8" y="601.90" width="0.75" height="4.70" fill="#5A8CC8" fill-opacity="0.36"/>
<rect x="634.5" y="601.90" width="0.75" height="4.70" fill="#5A8CC8" fill-opacity="0.36"/>
<rect x="639.7" y="601.90" width="0.75" height="4.70" fill="#5A8CC8" fill-opacity="0.36"/>
<rect x="654.9" y="601.90" width="0.75" height="4.70" fill="#5A8CC8" fill-opacity="0.36"/>
<rect x="657.8" y="601.90" width="0.75" height="4.70" fill="#5A8CC8" fill-opacity="0.36"/>
<rect x="662.0" y="601.90" width="0.75" height="4.70" fill="#5A8CC8" fill-opacity="0.36"/>
<rect x="663.9" y="601.90" width="0.75" height="4.70" fill="#5A8CC8" fill-opacity="0.36"/>
<rect x="667.7" y="601.90" width="0.75" height="4.70" fill="#5A8CC8" fill-opacity="0.36"/>
<rect x="675.3" y="601.90" width="0.75" height="4.70" fill="#5A8CC8" fill-opacity="0.36"/>
<rect x="677.2" y="601.90" width="0.75" height="4.70" fill="#5A8CC8" fill-opacity="0.36"/>
<rect x="676.50" y="601.90" width="0.6" height="4.70" fill="#5A8CC8" fill-opacity="0.4"/>
<rect x="677.05" y="601.90" width="0.6" height="4.70" fill="#5A8CC8" fill-opacity="0.4"/>
<rect x="677.60" y="601.90" width="0.6" height="4.70" fill="#5A8CC8" fill-opacity="0.4"/>
<rect x="678.15" y="601.90" width="0.6" height="4.70" fill="#5A8CC8" fill-opacity="0.4"/>
<rect x="678.70" y="601.90" width="0.6" height="4.70" fill="#5A8CC8" fill-opacity="0.4"/>
<rect x="357.9" y="606.60" width="0.75" height="4.70" fill="#781432" fill-opacity="0.36"/>
<rect x="359.8" y="606.60" width="0.75" height="4.70" fill="#781432" fill-opacity="0.36"/>
<rect x="361.7" y="606.60" width="0.75" height="4.70" fill="#781432" fill-opacity="0.36"/>
<rect x="364.1" y="606.60" width="0.75" height="4.70" fill="#781432" fill-opacity="0.36"/>
<rect x="367.9" y="606.60" width="0.75" height="4.70" fill="#781432" fill-opacity="0.36"/>
<rect x="368.4" y="606.60" width="0.75" height="4.70" fill="#781432" fill-opacity="0.36"/>
<rect x="402.0" y="606.60" width="0.75" height="4.70" fill="#781432" fill-opacity="0.36"/>
<rect x="403.5" y="606.60" width="0.75" height="4.70" fill="#781432" fill-opacity="0.36"/>
<rect x="410.1" y="606.60" width="0.75" height="4.70" fill="#781432" fill-opacity="0.36"/>
<rect x="415.8" y="606.60" width="0.75" height="4.70" fill="#781432" fill-opacity="0.36"/>
<rect x="422.0" y="606.60" width="0.75" height="4.70" fill="#781432" fill-opacity="0.36"/>
<rect x="436.7" y="606.60" width="0.75" height="4.70" fill="#781432" fill-opacity="0.36"/>
<rect x="449.0" y="606.60" width="0.75" height="4.70" fill="#781432" fill-opacity="0.36"/>
<rect x="452.8" y="606.60" width="0.75" height="4.70" fill="#781432" fill-opacity="0.36"/>
<rect x="455.7" y="606.60" width="0.75" height="4.70" fill="#781432" fill-opacity="0.36"/>
<rect x="458.5" y="606.60" width="0.75" height="4.70" fill="#781432" fill-opacity="0.36"/>
<rect x="467.0" y="606.60" width="0.75" height="4.70" fill="#781432" fill-opacity="0.36"/>
<rect x="477.5" y="606.60" width="0.75" height="4.70" fill="#781432" fill-opacity="0.36"/>
<rect x="484.1" y="606.60" width="0.75" height="4.70" fill="#781432" fill-opacity="0.36"/>
<rect x="496.9" y="606.60" width="0.75" height="4.70" fill="#781432" fill-opacity="0.36"/>
<rect x="502.2" y="606.60" width="0.75" height="4.70" fill="#781432" fill-opacity="0.36"/>
<rect x="505.9" y="606.60" width="0.75" height="4.70" fill="#781432" fill-opacity="0.36"/>
<rect x="506.9" y="606.60" width="0.75" height="4.70" fill="#781432" fill-opacity="0.36"/>
<rect x="509.3" y="606.60" width="0.75" height="4.70" fill="#781432" fill-opacity="0.36"/>
<rect x="511.2" y="606.60" width="0.75" height="4.70" fill="#781432" fill-opacity="0.36"/>
<rect x="531.1" y="606.60" width="0.75" height="4.70" fill="#781432" fill-opacity="0.36"/>
<rect x="536.8" y="606.60" width="0.75" height="4.70" fill="#781432" fill-opacity="0.36"/>
<rect x="543.4" y="606.60" width="0.75" height="4.70" fill="#781432" fill-opacity="0.36"/>
<rect x="549.1" y="606.60" width="0.75" height="4.70" fill="#781432" fill-opacity="0.36"/>
<rect x="553.9" y="606.60" width="0.75" height="4.70" fill="#781432" fill-opacity="0.36"/>
<rect x="556.7" y="606.60" width="0.75" height="4.70" fill="#781432" fill-opacity="0.36"/>
<rect x="561.0" y="606.60" width="0.75" height="4.70" fill="#781432" fill-opacity="0.36"/>
<rect x="563.8" y="606.60" width="0.75" height="4.70" fill="#781432" fill-opacity="0.36"/>
<rect x="564.8" y="606.60" width="0.75" height="4.70" fill="#781432" fill-opacity="0.36"/>
<rect x="565.7" y="606.60" width="0.75" height="4.70" fill="#781432" fill-opacity="0.36"/>
<rect x="566.7" y="606.60" width="0.75" height="4.70" fill="#781432" fill-opacity="0.36"/>
<rect x="582.8" y="606.60" width="0.75" height="4.70" fill="#781432" fill-opacity="0.36"/>
<rect x="588.0" y="606.60" width="0.75" height="4.70" fill="#781432" fill-opacity="0.36"/>
<rect x="589.9" y="606.60" width="0.75" height="4.70" fill="#781432" fill-opacity="0.36"/>
<rect x="611.3" y="606.60" width="0.75" height="4.70" fill="#781432" fill-opacity="0.36"/>
<rect x="617.0" y="606.60" width="0.75" height="4.70" fill="#781432" fill-opacity="0.36"/>
<rect x="619.3" y="606.60" width="0.75" height="4.70" fill="#781432" fill-opacity="0.36"/>
<rect x="624.1" y="606.60" width="0.75" height="4.70" fill="#781432" fill-opacity="0.36"/>
<rect x="628.8" y="606.60" width="0.75" height="4.70" fill="#781432" fill-opacity="0.36"/>
<rect x="639.7" y="606.60" width="0.75" height="4.70" fill="#781432" fill-opacity="0.36"/>
<rect x="642.1" y="606.60" width="0.75" height="4.70" fill="#781432" fill-opacity="0.36"/>
<rect x="650.7" y="606.60" width="0.75" height="4.70" fill="#781432" fill-opacity="0.36"/>
<rect x="654.0" y="606.60" width="0.75" height="4.70" fill="#781432" fill-opacity="0.36"/>
<rect x="656.3" y="606.60" width="0.75" height="4.70" fill="#781432" fill-opacity="0.36"/>
<rect x="664.9" y="606.60" width="0.75" height="4.70" fill="#781432" fill-opacity="0.36"/>
<rect x="665.8" y="606.60" width="0.75" height="4.70" fill="#781432" fill-opacity="0.36"/>
<rect x="668.7" y="606.60" width="0.75" height="4.70" fill="#781432" fill-opacity="0.36"/>
<rect x="672.5" y="606.60" width="0.75" height="4.70" fill="#781432" fill-opacity="0.36"/>
<rect x="673.4" y="606.60" width="0.75" height="4.70" fill="#781432" fill-opacity="0.36"/>
<rect x="674.4" y="606.60" width="0.75" height="4.70" fill="#781432" fill-opacity="0.36"/>
<rect x="675.8" y="606.60" width="0.75" height="4.70" fill="#781432" fill-opacity="0.36"/>
<rect x="677.2" y="606.60" width="0.75" height="4.70" fill="#781432" fill-opacity="0.36"/>
<rect x="678.2" y="606.60" width="0.75" height="4.70" fill="#781432" fill-opacity="0.36"/>
<rect x="676.50" y="606.60" width="0.6" height="4.70" fill="#781432" fill-opacity="0.4"/>
<rect x="677.05" y="606.60" width="0.6" height="4.70" fill="#781432" fill-opacity="0.4"/>
<rect x="677.60" y="606.60" width="0.6" height="4.70" fill="#781432" fill-opacity="0.4"/>
<rect x="678.15" y="606.60" width="0.6" height="4.70" fill="#781432" fill-opacity="0.4"/>
<rect x="678.70" y="606.60" width="0.6" height="4.70" fill="#781432" fill-opacity="0.4"/>
<rect x="360.3" y="611.30" width="0.75" height="4.70" fill="#50C6D6" fill-opacity="0.36"/>
<rect x="361.2" y="611.30" width="0.75" height="4.70" fill="#50C6D6" fill-opacity="0.36"/>
<rect x="363.1" y="611.30" width="0.75" height="4.70" fill="#50C6D6" fill-opacity="0.36"/>
<rect x="367.9" y="611.30" width="0.75" height="4.70" fill="#50C6D6" fill-opacity="0.36"/>
<rect x="368.8" y="611.30" width="0.75" height="4.70" fill="#50C6D6" fill-opacity="0.36"/>
<rect x="370.7" y="611.30" width="0.75" height="4.70" fill="#50C6D6" fill-opacity="0.36"/>
<rect x="374.0" y="611.30" width="0.75" height="4.70" fill="#50C6D6" fill-opacity="0.36"/>
<rect x="385.0" y="611.30" width="0.75" height="4.70" fill="#50C6D6" fill-opacity="0.36"/>
<rect x="387.8" y="611.30" width="0.75" height="4.70" fill="#50C6D6" fill-opacity="0.36"/>
<rect x="392.1" y="611.30" width="0.75" height="4.70" fill="#50C6D6" fill-opacity="0.36"/>
<rect x="393.0" y="611.30" width="0.75" height="4.70" fill="#50C6D6" fill-opacity="0.36"/>
<rect x="394.9" y="611.30" width="0.75" height="4.70" fill="#50C6D6" fill-opacity="0.36"/>
<rect x="400.6" y="611.30" width="0.75" height="4.70" fill="#50C6D6" fill-opacity="0.36"/>
<rect x="409.6" y="611.30" width="0.75" height="4.70" fill="#50C6D6" fill-opacity="0.36"/>
<rect x="412.5" y="611.30" width="0.75" height="4.70" fill="#50C6D6" fill-opacity="0.36"/>
<rect x="413.4" y="611.30" width="0.75" height="4.70" fill="#50C6D6" fill-opacity="0.36"/>
<rect x="416.3" y="611.30" width="0.75" height="4.70" fill="#50C6D6" fill-opacity="0.36"/>
<rect x="451.9" y="611.30" width="0.75" height="4.70" fill="#50C6D6" fill-opacity="0.36"/>
<rect x="455.7" y="611.30" width="0.75" height="4.70" fill="#50C6D6" fill-opacity="0.36"/>
<rect x="458.5" y="611.30" width="0.75" height="4.70" fill="#50C6D6" fill-opacity="0.36"/>
<rect x="474.2" y="611.30" width="0.75" height="4.70" fill="#50C6D6" fill-opacity="0.36"/>
<rect x="485.1" y="611.30" width="0.75" height="4.70" fill="#50C6D6" fill-opacity="0.36"/>
<rect x="488.4" y="611.30" width="0.75" height="4.70" fill="#50C6D6" fill-opacity="0.36"/>
<rect x="500.3" y="611.30" width="0.75" height="4.70" fill="#50C6D6" fill-opacity="0.36"/>
<rect x="503.1" y="611.30" width="0.75" height="4.70" fill="#50C6D6" fill-opacity="0.36"/>
<rect x="516.9" y="611.30" width="0.75" height="4.70" fill="#50C6D6" fill-opacity="0.36"/>
<rect x="534.9" y="611.30" width="0.75" height="4.70" fill="#50C6D6" fill-opacity="0.36"/>
<rect x="543.9" y="611.30" width="0.75" height="4.70" fill="#50C6D6" fill-opacity="0.36"/>
<rect x="549.1" y="611.30" width="0.75" height="4.70" fill="#50C6D6" fill-opacity="0.36"/>
<rect x="550.1" y="611.30" width="0.75" height="4.70" fill="#50C6D6" fill-opacity="0.36"/>
<rect x="555.8" y="611.30" width="0.75" height="4.70" fill="#50C6D6" fill-opacity="0.36"/>
<rect x="563.8" y="611.30" width="0.75" height="4.70" fill="#50C6D6" fill-opacity="0.36"/>
<rect x="569.0" y="611.30" width="0.75" height="4.70" fill="#50C6D6" fill-opacity="0.36"/>
<rect x="581.4" y="611.30" width="0.75" height="4.70" fill="#50C6D6" fill-opacity="0.36"/>
<rect x="587.6" y="611.30" width="0.75" height="4.70" fill="#50C6D6" fill-opacity="0.36"/>
<rect x="590.9" y="611.30" width="0.75" height="4.70" fill="#50C6D6" fill-opacity="0.36"/>
<rect x="601.8" y="611.30" width="0.75" height="4.70" fill="#50C6D6" fill-opacity="0.36"/>
<rect x="603.7" y="611.30" width="0.75" height="4.70" fill="#50C6D6" fill-opacity="0.36"/>
<rect x="611.3" y="611.30" width="0.75" height="4.70" fill="#50C6D6" fill-opacity="0.36"/>
<rect x="626.9" y="611.30" width="0.75" height="4.70" fill="#50C6D6" fill-opacity="0.36"/>
<rect x="631.2" y="611.30" width="0.75" height="4.70" fill="#50C6D6" fill-opacity="0.36"/>
<rect x="635.9" y="611.30" width="0.75" height="4.70" fill="#50C6D6" fill-opacity="0.36"/>
<rect x="636.9" y="611.30" width="0.75" height="4.70" fill="#50C6D6" fill-opacity="0.36"/>
<rect x="645.0" y="611.30" width="0.75" height="4.70" fill="#50C6D6" fill-opacity="0.36"/>
<rect x="647.8" y="611.30" width="0.75" height="4.70" fill="#50C6D6" fill-opacity="0.36"/>
<rect x="650.7" y="611.30" width="0.75" height="4.70" fill="#50C6D6" fill-opacity="0.36"/>
<rect x="654.0" y="611.30" width="0.75" height="4.70" fill="#50C6D6" fill-opacity="0.36"/>
<rect x="657.8" y="611.30" width="0.75" height="4.70" fill="#50C6D6" fill-opacity="0.36"/>
<rect x="660.1" y="611.30" width="0.75" height="4.70" fill="#50C6D6" fill-opacity="0.36"/>
<rect x="661.1" y="611.30" width="0.75" height="4.70" fill="#50C6D6" fill-opacity="0.36"/>
<rect x="663.0" y="611.30" width="0.75" height="4.70" fill="#50C6D6" fill-opacity="0.36"/>
<rect x="663.9" y="611.30" width="0.75" height="4.70" fill="#50C6D6" fill-opacity="0.36"/>
<rect x="666.3" y="611.30" width="0.75" height="4.70" fill="#50C6D6" fill-opacity="0.36"/>
<rect x="667.7" y="611.30" width="0.75" height="4.70" fill="#50C6D6" fill-opacity="0.36"/>
<rect x="670.1" y="611.30" width="0.75" height="4.70" fill="#50C6D6" fill-opacity="0.36"/>
<rect x="671.5" y="611.30" width="0.75" height="4.70" fill="#50C6D6" fill-opacity="0.36"/>
<rect x="675.3" y="611.30" width="0.75" height="4.70" fill="#50C6D6" fill-opacity="0.36"/>
<rect x="676.3" y="611.30" width="0.75" height="4.70" fill="#50C6D6" fill-opacity="0.36"/>
<rect x="677.2" y="611.30" width="0.75" height="4.70" fill="#50C6D6" fill-opacity="0.36"/>
<rect x="678.2" y="611.30" width="0.75" height="4.70" fill="#50C6D6" fill-opacity="0.36"/>
<rect x="676.50" y="611.30" width="0.6" height="4.70" fill="#50C6D6" fill-opacity="0.4"/>
<rect x="677.05" y="611.30" width="0.6" height="4.70" fill="#50C6D6" fill-opacity="0.4"/>
<rect x="677.60" y="611.30" width="0.6" height="4.70" fill="#50C6D6" fill-opacity="0.4"/>
<rect x="678.15" y="611.30" width="0.6" height="4.70" fill="#50C6D6" fill-opacity="0.4"/>
<rect x="678.70" y="611.30" width="0.6" height="4.70" fill="#50C6D6" fill-opacity="0.4"/>
<line x1="355.2" y1="616.2" x2="679.3" y2="616.2" stroke="#000" stroke-width="1.2"/>
<text transform="translate(463.9,624.6) scale(0.831,1)" font-size="8.8" fill="#000" stroke="#000" stroke-width="0.15">high risk&lt;−−−−−−−−−−−&gt;low risk</text>
</g></svg></body></html>
